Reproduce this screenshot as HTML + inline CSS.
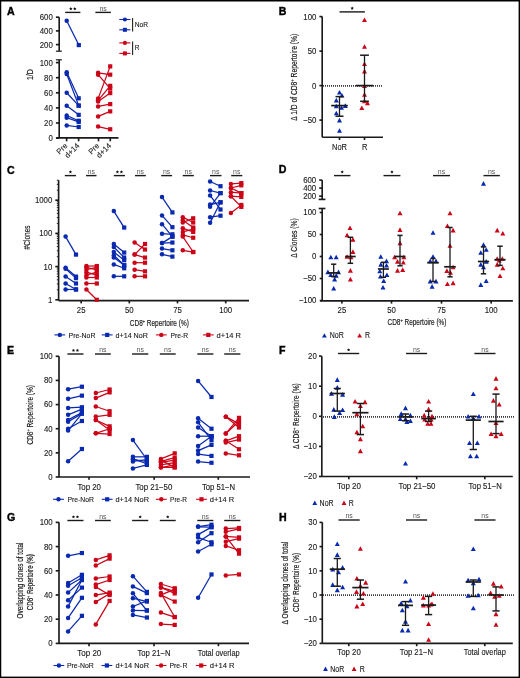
<!DOCTYPE html>
<html><head><meta charset="utf-8"><style>
html,body{margin:0;padding:0;background:#fff;width:520px;height:678px;overflow:hidden}
svg{display:block;will-change:transform}
text{font-family:"Liberation Sans",sans-serif}
</style></head><body>
<svg width="520" height="678" viewBox="0 0 520 678">
<rect x="0" y="0" width="520" height="678" fill="#fff"/>
<text x="6.9" y="14.8" font-size="10.6" font-weight="bold" fill="#000" stroke="#000" stroke-width="0.4">A</text>
<line x1="59.2" y1="17.2" x2="59.2" y2="51.2" stroke="#1a1a1a" stroke-width="1.65"/>
<line x1="55.9" y1="17.2" x2="59.2" y2="17.2" stroke="#1a1a1a" stroke-width="1.65"/>
<text x="52.8" y="20.1" font-size="8.7" text-anchor="end" textLength="13.05" lengthAdjust="spacingAndGlyphs" fill="#1a1a1a" stroke="#1a1a1a" stroke-width="0.12">600</text>
<line x1="55.9" y1="30.9" x2="59.2" y2="30.9" stroke="#1a1a1a" stroke-width="1.65"/>
<text x="52.8" y="33.8" font-size="8.7" text-anchor="end" textLength="13.05" lengthAdjust="spacingAndGlyphs" fill="#1a1a1a" stroke="#1a1a1a" stroke-width="0.12">400</text>
<line x1="55.9" y1="44.6" x2="59.2" y2="44.6" stroke="#1a1a1a" stroke-width="1.65"/>
<text x="52.8" y="47.5" font-size="8.7" text-anchor="end" textLength="13.05" lengthAdjust="spacingAndGlyphs" fill="#1a1a1a" stroke="#1a1a1a" stroke-width="0.12">200</text>
<line x1="55.9" y1="51.2" x2="61.9" y2="51.2" stroke="#1a1a1a" stroke-width="1.2"/>
<line x1="55.9" y1="59.8" x2="61.9" y2="59.8" stroke="#1a1a1a" stroke-width="1.2"/>
<line x1="59.2" y1="59.8" x2="59.2" y2="137.8" stroke="#1a1a1a" stroke-width="1.65"/>
<line x1="55.9" y1="62.6" x2="59.2" y2="62.6" stroke="#1a1a1a" stroke-width="1.65"/>
<text x="52.8" y="65.5" font-size="8.7" text-anchor="end" textLength="13.05" lengthAdjust="spacingAndGlyphs" fill="#1a1a1a" stroke="#1a1a1a" stroke-width="0.12">100</text>
<line x1="55.9" y1="77.7" x2="59.2" y2="77.7" stroke="#1a1a1a" stroke-width="1.65"/>
<text x="52.8" y="80.6" font-size="8.7" text-anchor="end" textLength="8.7" lengthAdjust="spacingAndGlyphs" fill="#1a1a1a" stroke="#1a1a1a" stroke-width="0.12">80</text>
<line x1="55.9" y1="92.8" x2="59.2" y2="92.8" stroke="#1a1a1a" stroke-width="1.65"/>
<text x="52.8" y="95.7" font-size="8.7" text-anchor="end" textLength="8.7" lengthAdjust="spacingAndGlyphs" fill="#1a1a1a" stroke="#1a1a1a" stroke-width="0.12">60</text>
<line x1="55.9" y1="107.9" x2="59.2" y2="107.9" stroke="#1a1a1a" stroke-width="1.65"/>
<text x="52.8" y="110.8" font-size="8.7" text-anchor="end" textLength="8.7" lengthAdjust="spacingAndGlyphs" fill="#1a1a1a" stroke="#1a1a1a" stroke-width="0.12">40</text>
<line x1="55.9" y1="123" x2="59.2" y2="123" stroke="#1a1a1a" stroke-width="1.65"/>
<text x="52.8" y="125.9" font-size="8.7" text-anchor="end" textLength="8.7" lengthAdjust="spacingAndGlyphs" fill="#1a1a1a" stroke="#1a1a1a" stroke-width="0.12">20</text>
<line x1="55.9" y1="138.1" x2="59.2" y2="138.1" stroke="#1a1a1a" stroke-width="1.65"/>
<text x="52.8" y="141" font-size="8.7" text-anchor="end" textLength="4.35" lengthAdjust="spacingAndGlyphs" fill="#1a1a1a" stroke="#1a1a1a" stroke-width="0.12">0</text>
<line x1="56.2" y1="137.8" x2="118.5" y2="137.8" stroke="#1a1a1a" stroke-width="1.65"/>
<line x1="66.6" y1="137.8" x2="66.6" y2="141.3" stroke="#1a1a1a" stroke-width="1.65"/>
<line x1="78.6" y1="137.8" x2="78.6" y2="141.3" stroke="#1a1a1a" stroke-width="1.65"/>
<line x1="98.5" y1="137.8" x2="98.5" y2="141.3" stroke="#1a1a1a" stroke-width="1.65"/>
<line x1="110.3" y1="137.8" x2="110.3" y2="141.3" stroke="#1a1a1a" stroke-width="1.65"/>
<text transform="translate(68 146.2) rotate(-45)" font-size="7.7" text-anchor="end" fill="#1a1a1a" stroke="#1a1a1a" stroke-width="0.12">Pre</text>
<text transform="translate(99.9 146.2) rotate(-45)" font-size="7.7" text-anchor="end" fill="#1a1a1a" stroke="#1a1a1a" stroke-width="0.12">Pre</text>
<text transform="translate(80 146.2) rotate(-45)" font-size="7.7" text-anchor="end" fill="#1a1a1a" stroke="#1a1a1a" stroke-width="0.12">d+14</text>
<text transform="translate(111.7 146.2) rotate(-45)" font-size="7.7" text-anchor="end" fill="#1a1a1a" stroke="#1a1a1a" stroke-width="0.12">d+14</text>
<text transform="translate(32.9 74.6) rotate(-90)" font-size="9.8" text-anchor="middle" textLength="10.8" lengthAdjust="spacingAndGlyphs" fill="#1a1a1a" stroke="#1a1a1a" stroke-width="0.18">1/D</text>
<line x1="66.7" y1="20.83" x2="78.8" y2="45.08" stroke="#0829b0" stroke-width="1.25"/>
<circle cx="66.7" cy="20.83" r="2.25" fill="#0829b0"/>
<rect x="76.7" y="42.98" width="4.2" height="4.2" fill="#0829b0"/>
<line x1="66.7" y1="72.19" x2="78.7" y2="98.31" stroke="#0829b0" stroke-width="1.25"/>
<line x1="66.7" y1="73.92" x2="78.7" y2="105.63" stroke="#0829b0" stroke-width="1.25"/>
<line x1="66.7" y1="92.8" x2="78.7" y2="105.63" stroke="#0829b0" stroke-width="1.25"/>
<line x1="66.7" y1="105.63" x2="78.7" y2="114.85" stroke="#0829b0" stroke-width="1.25"/>
<line x1="66.7" y1="115.45" x2="78.7" y2="120.73" stroke="#0829b0" stroke-width="1.25"/>
<line x1="66.7" y1="117.71" x2="78.7" y2="121.87" stroke="#0829b0" stroke-width="1.25"/>
<line x1="66.7" y1="125.49" x2="78.7" y2="127" stroke="#0829b0" stroke-width="1.25"/>
<circle cx="66.7" cy="72.19" r="2.25" fill="#0829b0"/>
<rect x="76.6" y="96.21" width="4.2" height="4.2" fill="#0829b0"/>
<circle cx="66.7" cy="73.92" r="2.25" fill="#0829b0"/>
<rect x="76.6" y="103.53" width="4.2" height="4.2" fill="#0829b0"/>
<circle cx="66.7" cy="92.8" r="2.25" fill="#0829b0"/>
<rect x="76.6" y="103.53" width="4.2" height="4.2" fill="#0829b0"/>
<circle cx="66.7" cy="105.63" r="2.25" fill="#0829b0"/>
<rect x="76.6" y="112.75" width="4.2" height="4.2" fill="#0829b0"/>
<circle cx="66.7" cy="115.45" r="2.25" fill="#0829b0"/>
<rect x="76.6" y="118.64" width="4.2" height="4.2" fill="#0829b0"/>
<circle cx="66.7" cy="117.71" r="2.25" fill="#0829b0"/>
<rect x="76.6" y="119.77" width="4.2" height="4.2" fill="#0829b0"/>
<circle cx="66.7" cy="125.49" r="2.25" fill="#0829b0"/>
<rect x="76.6" y="124.9" width="4.2" height="4.2" fill="#0829b0"/>
<line x1="98.1" y1="72.79" x2="110.2" y2="74.68" stroke="#cc0418" stroke-width="1.25"/>
<line x1="98.1" y1="74.68" x2="110.2" y2="88.65" stroke="#cc0418" stroke-width="1.25"/>
<line x1="98.1" y1="98.61" x2="110.2" y2="66.38" stroke="#cc0418" stroke-width="1.25"/>
<line x1="98.1" y1="100.35" x2="110.2" y2="85.85" stroke="#cc0418" stroke-width="1.25"/>
<line x1="98.1" y1="101.48" x2="110.2" y2="93.1" stroke="#cc0418" stroke-width="1.25"/>
<line x1="98.1" y1="106.39" x2="110.2" y2="104.12" stroke="#cc0418" stroke-width="1.25"/>
<line x1="98.1" y1="116.43" x2="110.2" y2="111.37" stroke="#cc0418" stroke-width="1.25"/>
<line x1="98.1" y1="126.55" x2="110.2" y2="129.27" stroke="#cc0418" stroke-width="1.25"/>
<circle cx="98.1" cy="72.79" r="2.25" fill="#cc0418"/>
<rect x="108.1" y="72.58" width="4.2" height="4.2" fill="#cc0418"/>
<circle cx="98.1" cy="74.68" r="2.25" fill="#cc0418"/>
<rect x="108.1" y="86.55" width="4.2" height="4.2" fill="#cc0418"/>
<circle cx="98.1" cy="98.61" r="2.25" fill="#cc0418"/>
<rect x="108.1" y="64.28" width="4.2" height="4.2" fill="#cc0418"/>
<circle cx="98.1" cy="100.35" r="2.25" fill="#cc0418"/>
<rect x="108.1" y="83.75" width="4.2" height="4.2" fill="#cc0418"/>
<circle cx="98.1" cy="101.48" r="2.25" fill="#cc0418"/>
<rect x="108.1" y="91" width="4.2" height="4.2" fill="#cc0418"/>
<circle cx="98.1" cy="106.39" r="2.25" fill="#cc0418"/>
<rect x="108.1" y="102.03" width="4.2" height="4.2" fill="#cc0418"/>
<circle cx="98.1" cy="116.43" r="2.25" fill="#cc0418"/>
<rect x="108.1" y="109.27" width="4.2" height="4.2" fill="#cc0418"/>
<circle cx="98.1" cy="126.55" r="2.25" fill="#cc0418"/>
<rect x="108.1" y="127.17" width="4.2" height="4.2" fill="#cc0418"/>
<line x1="65.2" y1="12.4" x2="80.4" y2="12.4" stroke="#1a1a1a" stroke-width="1.4"/>
<path d="M70.8 7.1L71.3 8.11L72.42 8.27L71.61 9.06L71.8 10.18L70.8 9.65L69.8 10.18L69.99 9.06L69.18 8.27L70.3 8.11Z" fill="#111"/>
<path d="M74.8 7.1L75.3 8.11L76.42 8.27L75.61 9.06L75.8 10.18L74.8 9.65L73.8 10.18L73.99 9.06L73.18 8.27L74.3 8.11Z" fill="#111"/>
<line x1="95.4" y1="12.4" x2="110.9" y2="12.4" stroke="#1a1a1a" stroke-width="1.4"/>
<text x="103.15" y="10.6" font-size="6.9" text-anchor="middle" fill="#555">ns</text>
<line x1="119.3" y1="19.5" x2="130.4" y2="19.5" stroke="#0829b0" stroke-width="1.1"/>
<circle cx="124.9" cy="19.5" r="2.1" fill="#0829b0"/>
<line x1="119.3" y1="29.8" x2="130.4" y2="29.8" stroke="#0829b0" stroke-width="1.1"/>
<rect x="122.9" y="27.8" width="4" height="4" fill="#0829b0"/>
<line x1="132.6" y1="18.1" x2="132.6" y2="31.6" stroke="#222" stroke-width="1.1"/>
<text x="134.8" y="27.2" font-size="8" textLength="13.3" lengthAdjust="spacingAndGlyphs" fill="#1a1a1a" stroke="#1a1a1a" stroke-width="0.12">NoR</text>
<line x1="119.3" y1="42.9" x2="130.4" y2="42.9" stroke="#cc0418" stroke-width="1.1"/>
<circle cx="124.9" cy="42.9" r="2.1" fill="#cc0418"/>
<line x1="119.3" y1="53.4" x2="130.4" y2="53.4" stroke="#cc0418" stroke-width="1.1"/>
<rect x="122.9" y="51.4" width="4" height="4" fill="#cc0418"/>
<line x1="132.6" y1="41.4" x2="132.6" y2="54.9" stroke="#222" stroke-width="1.1"/>
<text x="134.8" y="50.2" font-size="8" textLength="4.7" lengthAdjust="spacingAndGlyphs" fill="#1a1a1a" stroke="#1a1a1a" stroke-width="0.12">R</text>
<text x="278.8" y="14.5" font-size="10.6" font-weight="bold" fill="#000" stroke="#000" stroke-width="0.4">B</text>
<line x1="322.2" y1="16.5" x2="322.2" y2="137.2" stroke="#1a1a1a" stroke-width="1.65"/>
<line x1="319.4" y1="16.6" x2="322.2" y2="16.6" stroke="#1a1a1a" stroke-width="1.65"/>
<text x="316.4" y="19.5" font-size="8.7" text-anchor="end" textLength="13.05" lengthAdjust="spacingAndGlyphs" fill="#1a1a1a" stroke="#1a1a1a" stroke-width="0.12">100</text>
<line x1="319.4" y1="51.1" x2="322.2" y2="51.1" stroke="#1a1a1a" stroke-width="1.65"/>
<text x="316.4" y="54" font-size="8.7" text-anchor="end" textLength="8.7" lengthAdjust="spacingAndGlyphs" fill="#1a1a1a" stroke="#1a1a1a" stroke-width="0.12">50</text>
<line x1="319.4" y1="85.6" x2="322.2" y2="85.6" stroke="#1a1a1a" stroke-width="1.65"/>
<text x="316.4" y="88.5" font-size="8.7" text-anchor="end" textLength="4.35" lengthAdjust="spacingAndGlyphs" fill="#1a1a1a" stroke="#1a1a1a" stroke-width="0.12">0</text>
<line x1="319.4" y1="120.1" x2="322.2" y2="120.1" stroke="#1a1a1a" stroke-width="1.65"/>
<text x="316.4" y="123" font-size="8.7" text-anchor="end" textLength="13.3" lengthAdjust="spacingAndGlyphs" fill="#1a1a1a" stroke="#1a1a1a" stroke-width="0.12">&#8722;50</text>
<line x1="322.2" y1="137.2" x2="383" y2="137.2" stroke="#1a1a1a" stroke-width="1.65"/>
<line x1="339.5" y1="137.2" x2="339.5" y2="140" stroke="#1a1a1a" stroke-width="1.65"/>
<line x1="364.5" y1="137.2" x2="364.5" y2="140" stroke="#1a1a1a" stroke-width="1.65"/>
<line x1="323" y1="85.95" x2="383" y2="85.95" stroke="#3a3a3a" stroke-width="1.8" stroke-dasharray="1 1"/>
<text x="339.5" y="149.9" font-size="8.7" text-anchor="middle" textLength="15" lengthAdjust="spacingAndGlyphs" fill="#1a1a1a" stroke="#1a1a1a" stroke-width="0.12">NoR</text>
<text x="364.6" y="149.9" font-size="8.7" text-anchor="middle" textLength="5.4" lengthAdjust="spacingAndGlyphs" fill="#1a1a1a" stroke="#1a1a1a" stroke-width="0.12">R</text>
<text transform="translate(296.7 77.3) rotate(-90)" font-size="9.3" text-anchor="middle" textLength="87" lengthAdjust="spacingAndGlyphs" fill="#1a1a1a" stroke="#1a1a1a" stroke-width="0.18">&#916; 1/D of CD8<tspan font-size="5.6" dy="-3.2">+</tspan><tspan dy="3.2"> Repertoire (%)</tspan></text>
<line x1="339.5" y1="11.9" x2="364.9" y2="11.9" stroke="#1a1a1a" stroke-width="1.4"/>
<path d="M352.2 6.6L352.7 7.61L353.82 7.77L353.01 8.56L353.2 9.68L352.2 9.15L351.2 9.68L351.39 8.56L350.58 7.77L351.7 7.61Z" fill="#111"/>
<path d="M339.5 89.92L342 94.52L337 94.52Z" fill="#0829b0"/>
<path d="M341.9 92.96L344.4 97.56L339.4 97.56Z" fill="#0829b0"/>
<path d="M336.3 97.79L338.8 102.39L333.8 102.39Z" fill="#0829b0"/>
<path d="M336.3 103.65L338.8 108.25L333.8 108.25Z" fill="#0829b0"/>
<path d="M341.5 105.17L344 109.77L339 109.77Z" fill="#0829b0"/>
<path d="M345.3 103.31L347.8 107.91L342.8 107.91Z" fill="#0829b0"/>
<path d="M336.3 110.69L338.8 115.29L333.8 115.29Z" fill="#0829b0"/>
<path d="M339.5 117.8L342 122.4L337 122.4Z" fill="#0829b0"/>
<path d="M339.5 128.15L342 132.75L337 132.75Z" fill="#0829b0"/>
<line x1="339.5" y1="96.6" x2="339.5" y2="116.2" stroke="#1a1a1a" stroke-width="1.3"/>
<line x1="335.5" y1="96.6" x2="343.5" y2="96.6" stroke="#1a1a1a" stroke-width="1.5"/>
<line x1="335.5" y1="116.2" x2="343.5" y2="116.2" stroke="#1a1a1a" stroke-width="1.5"/>
<line x1="331.2" y1="105.6" x2="347.8" y2="105.6" stroke="#1a1a1a" stroke-width="1.7"/>
<path d="M364.5 17.47L367 22.07L362 22.07Z" fill="#cc0418"/>
<path d="M364.5 44.18L367 48.78L362 48.78Z" fill="#cc0418"/>
<path d="M364.5 61.5L367 66.1L362 66.1Z" fill="#cc0418"/>
<path d="M364.5 68.81L367 73.41L362 73.41Z" fill="#cc0418"/>
<path d="M364.5 83.3L367 87.9L362 87.9Z" fill="#cc0418"/>
<path d="M364.5 92.13L367 96.73L362 96.73Z" fill="#cc0418"/>
<path d="M364.5 98.69L367 103.29L362 103.29Z" fill="#cc0418"/>
<path d="M367.5 100.55L370 105.15L365 105.15Z" fill="#cc0418"/>
<path d="M361.8 105.38L364.3 109.98L359.3 109.98Z" fill="#cc0418"/>
<line x1="364.5" y1="55.2" x2="364.5" y2="101.3" stroke="#1a1a1a" stroke-width="1.3"/>
<line x1="360.1" y1="55.2" x2="368.9" y2="55.2" stroke="#1a1a1a" stroke-width="1.5"/>
<line x1="360.1" y1="101.3" x2="368.9" y2="101.3" stroke="#1a1a1a" stroke-width="1.5"/>
<line x1="355.9" y1="85.6" x2="373.1" y2="85.6" stroke="#1a1a1a" stroke-width="1.7"/>
<text x="7.1" y="173.5" font-size="10.6" font-weight="bold" fill="#000" stroke="#000" stroke-width="0.4">C</text>
<line x1="58.6" y1="180.2" x2="58.6" y2="300.6" stroke="#1a1a1a" stroke-width="1.65"/>
<line x1="55.3" y1="299.8" x2="58.6" y2="299.8" stroke="#1a1a1a" stroke-width="1.65"/>
<text x="52.3" y="302.7" font-size="8.7" text-anchor="end" textLength="4.35" lengthAdjust="spacingAndGlyphs" fill="#1a1a1a" stroke="#1a1a1a" stroke-width="0.12">1</text>
<line x1="56.8" y1="289.81" x2="58.6" y2="289.81" stroke="#1a1a1a" stroke-width="0.9"/>
<line x1="56.8" y1="283.96" x2="58.6" y2="283.96" stroke="#1a1a1a" stroke-width="0.9"/>
<line x1="56.8" y1="279.81" x2="58.6" y2="279.81" stroke="#1a1a1a" stroke-width="0.9"/>
<line x1="56.8" y1="276.59" x2="58.6" y2="276.59" stroke="#1a1a1a" stroke-width="0.9"/>
<line x1="56.8" y1="273.97" x2="58.6" y2="273.97" stroke="#1a1a1a" stroke-width="0.9"/>
<line x1="56.8" y1="271.74" x2="58.6" y2="271.74" stroke="#1a1a1a" stroke-width="0.9"/>
<line x1="56.8" y1="269.82" x2="58.6" y2="269.82" stroke="#1a1a1a" stroke-width="0.9"/>
<line x1="56.8" y1="268.12" x2="58.6" y2="268.12" stroke="#1a1a1a" stroke-width="0.9"/>
<line x1="55.3" y1="266.6" x2="58.6" y2="266.6" stroke="#1a1a1a" stroke-width="1.65"/>
<text x="52.3" y="269.5" font-size="8.7" text-anchor="end" textLength="8.7" lengthAdjust="spacingAndGlyphs" fill="#1a1a1a" stroke="#1a1a1a" stroke-width="0.12">10</text>
<line x1="56.8" y1="256.61" x2="58.6" y2="256.61" stroke="#1a1a1a" stroke-width="0.9"/>
<line x1="56.8" y1="250.76" x2="58.6" y2="250.76" stroke="#1a1a1a" stroke-width="0.9"/>
<line x1="56.8" y1="246.61" x2="58.6" y2="246.61" stroke="#1a1a1a" stroke-width="0.9"/>
<line x1="56.8" y1="243.39" x2="58.6" y2="243.39" stroke="#1a1a1a" stroke-width="0.9"/>
<line x1="56.8" y1="240.77" x2="58.6" y2="240.77" stroke="#1a1a1a" stroke-width="0.9"/>
<line x1="56.8" y1="238.54" x2="58.6" y2="238.54" stroke="#1a1a1a" stroke-width="0.9"/>
<line x1="56.8" y1="236.62" x2="58.6" y2="236.62" stroke="#1a1a1a" stroke-width="0.9"/>
<line x1="56.8" y1="234.92" x2="58.6" y2="234.92" stroke="#1a1a1a" stroke-width="0.9"/>
<line x1="55.3" y1="233.4" x2="58.6" y2="233.4" stroke="#1a1a1a" stroke-width="1.65"/>
<text x="52.3" y="236.3" font-size="8.7" text-anchor="end" textLength="13.05" lengthAdjust="spacingAndGlyphs" fill="#1a1a1a" stroke="#1a1a1a" stroke-width="0.12">100</text>
<line x1="56.8" y1="223.41" x2="58.6" y2="223.41" stroke="#1a1a1a" stroke-width="0.9"/>
<line x1="56.8" y1="217.56" x2="58.6" y2="217.56" stroke="#1a1a1a" stroke-width="0.9"/>
<line x1="56.8" y1="213.41" x2="58.6" y2="213.41" stroke="#1a1a1a" stroke-width="0.9"/>
<line x1="56.8" y1="210.19" x2="58.6" y2="210.19" stroke="#1a1a1a" stroke-width="0.9"/>
<line x1="56.8" y1="207.57" x2="58.6" y2="207.57" stroke="#1a1a1a" stroke-width="0.9"/>
<line x1="56.8" y1="205.34" x2="58.6" y2="205.34" stroke="#1a1a1a" stroke-width="0.9"/>
<line x1="56.8" y1="203.42" x2="58.6" y2="203.42" stroke="#1a1a1a" stroke-width="0.9"/>
<line x1="56.8" y1="201.72" x2="58.6" y2="201.72" stroke="#1a1a1a" stroke-width="0.9"/>
<line x1="55.3" y1="200.2" x2="58.6" y2="200.2" stroke="#1a1a1a" stroke-width="1.65"/>
<text x="52.3" y="203.1" font-size="8.7" text-anchor="end" textLength="17.4" lengthAdjust="spacingAndGlyphs" fill="#1a1a1a" stroke="#1a1a1a" stroke-width="0.12">1000</text>
<line x1="56.8" y1="190.21" x2="58.6" y2="190.21" stroke="#1a1a1a" stroke-width="0.9"/>
<line x1="56.8" y1="184.36" x2="58.6" y2="184.36" stroke="#1a1a1a" stroke-width="0.9"/>
<line x1="56.8" y1="180.21" x2="58.6" y2="180.21" stroke="#1a1a1a" stroke-width="0.9"/>
<line x1="58.6" y1="300.6" x2="249" y2="300.6" stroke="#1a1a1a" stroke-width="1.65"/>
<line x1="81.2" y1="300.6" x2="81.2" y2="303.4" stroke="#1a1a1a" stroke-width="1.65"/>
<line x1="129.3" y1="300.6" x2="129.3" y2="303.4" stroke="#1a1a1a" stroke-width="1.65"/>
<line x1="177.5" y1="300.6" x2="177.5" y2="303.4" stroke="#1a1a1a" stroke-width="1.65"/>
<line x1="225.7" y1="300.6" x2="225.7" y2="303.4" stroke="#1a1a1a" stroke-width="1.65"/>
<text x="81.2" y="313.2" font-size="8.7" text-anchor="middle" textLength="8.7" lengthAdjust="spacingAndGlyphs" fill="#1a1a1a" stroke="#1a1a1a" stroke-width="0.12">25</text>
<text x="129.3" y="313.2" font-size="8.7" text-anchor="middle" textLength="8.7" lengthAdjust="spacingAndGlyphs" fill="#1a1a1a" stroke="#1a1a1a" stroke-width="0.12">50</text>
<text x="177.5" y="313.2" font-size="8.7" text-anchor="middle" textLength="8.7" lengthAdjust="spacingAndGlyphs" fill="#1a1a1a" stroke="#1a1a1a" stroke-width="0.12">75</text>
<text x="225.7" y="313.2" font-size="8.7" text-anchor="middle" textLength="13.05" lengthAdjust="spacingAndGlyphs" fill="#1a1a1a" stroke="#1a1a1a" stroke-width="0.12">100</text>
<text x="159.3" y="325.8" font-size="9.3" text-anchor="middle" textLength="59" lengthAdjust="spacingAndGlyphs" fill="#1a1a1a" stroke="#1a1a1a" stroke-width="0.18">CD8<tspan font-size="5.6" dy="-3.2">+</tspan><tspan dy="3.2"> Repertoire (%)</tspan></text>
<text transform="translate(29.9 237.4) rotate(-90)" font-size="9.3" text-anchor="middle" textLength="24" lengthAdjust="spacingAndGlyphs" fill="#1a1a1a" stroke="#1a1a1a" stroke-width="0.18">#Clones</text>
<line x1="65.6" y1="236.62" x2="76" y2="254.59" stroke="#0829b0" stroke-width="1.25"/>
<line x1="65.6" y1="267.65" x2="76" y2="276.59" stroke="#0829b0" stroke-width="1.25"/>
<line x1="65.6" y1="268.77" x2="76" y2="278.11" stroke="#0829b0" stroke-width="1.25"/>
<line x1="65.6" y1="276.59" x2="76" y2="283.49" stroke="#0829b0" stroke-width="1.25"/>
<line x1="65.6" y1="283.49" x2="76" y2="289.45" stroke="#0829b0" stroke-width="1.25"/>
<line x1="65.6" y1="289.45" x2="76" y2="289.45" stroke="#0829b0" stroke-width="1.25"/>
<circle cx="65.6" cy="236.62" r="2.25" fill="#0829b0"/>
<rect x="73.9" y="252.49" width="4.2" height="4.2" fill="#0829b0"/>
<circle cx="65.6" cy="267.65" r="2.25" fill="#0829b0"/>
<rect x="73.9" y="274.49" width="4.2" height="4.2" fill="#0829b0"/>
<circle cx="65.6" cy="268.77" r="2.25" fill="#0829b0"/>
<rect x="73.9" y="276.01" width="4.2" height="4.2" fill="#0829b0"/>
<circle cx="65.6" cy="276.59" r="2.25" fill="#0829b0"/>
<rect x="73.9" y="281.39" width="4.2" height="4.2" fill="#0829b0"/>
<circle cx="65.6" cy="283.49" r="2.25" fill="#0829b0"/>
<rect x="73.9" y="287.35" width="4.2" height="4.2" fill="#0829b0"/>
<circle cx="65.6" cy="289.45" r="2.25" fill="#0829b0"/>
<rect x="73.9" y="287.35" width="4.2" height="4.2" fill="#0829b0"/>
<line x1="86.4" y1="266.03" x2="96.8" y2="266.03" stroke="#cc0418" stroke-width="1.25"/>
<line x1="86.4" y1="267.34" x2="96.8" y2="269.82" stroke="#cc0418" stroke-width="1.25"/>
<line x1="86.4" y1="269.64" x2="96.8" y2="267.34" stroke="#cc0418" stroke-width="1.25"/>
<line x1="86.4" y1="272.16" x2="96.8" y2="275.22" stroke="#cc0418" stroke-width="1.25"/>
<line x1="86.4" y1="275.22" x2="96.8" y2="272.16" stroke="#cc0418" stroke-width="1.25"/>
<line x1="86.4" y1="277.49" x2="96.8" y2="277.49" stroke="#cc0418" stroke-width="1.25"/>
<line x1="86.4" y1="283.49" x2="96.8" y2="283.49" stroke="#cc0418" stroke-width="1.25"/>
<line x1="86.4" y1="289.45" x2="96.8" y2="299.8" stroke="#cc0418" stroke-width="1.25"/>
<circle cx="86.4" cy="266.03" r="2.25" fill="#cc0418"/>
<rect x="94.7" y="263.93" width="4.2" height="4.2" fill="#cc0418"/>
<circle cx="86.4" cy="267.34" r="2.25" fill="#cc0418"/>
<rect x="94.7" y="267.72" width="4.2" height="4.2" fill="#cc0418"/>
<circle cx="86.4" cy="269.64" r="2.25" fill="#cc0418"/>
<rect x="94.7" y="265.24" width="4.2" height="4.2" fill="#cc0418"/>
<circle cx="86.4" cy="272.16" r="2.25" fill="#cc0418"/>
<rect x="94.7" y="273.12" width="4.2" height="4.2" fill="#cc0418"/>
<circle cx="86.4" cy="275.22" r="2.25" fill="#cc0418"/>
<rect x="94.7" y="270.06" width="4.2" height="4.2" fill="#cc0418"/>
<circle cx="86.4" cy="277.49" r="2.25" fill="#cc0418"/>
<rect x="94.7" y="275.39" width="4.2" height="4.2" fill="#cc0418"/>
<circle cx="86.4" cy="283.49" r="2.25" fill="#cc0418"/>
<rect x="94.7" y="281.39" width="4.2" height="4.2" fill="#cc0418"/>
<circle cx="86.4" cy="289.45" r="2.25" fill="#cc0418"/>
<rect x="94.7" y="297.7" width="4.2" height="4.2" fill="#cc0418"/>
<line x1="113.8" y1="211.09" x2="124.2" y2="227.55" stroke="#0829b0" stroke-width="1.25"/>
<line x1="113.8" y1="243.98" x2="124.2" y2="252.55" stroke="#0829b0" stroke-width="1.25"/>
<line x1="113.8" y1="246.98" x2="124.2" y2="257.57" stroke="#0829b0" stroke-width="1.25"/>
<line x1="113.8" y1="252.01" x2="124.2" y2="260.19" stroke="#0829b0" stroke-width="1.25"/>
<line x1="113.8" y1="255.23" x2="124.2" y2="265.23" stroke="#0829b0" stroke-width="1.25"/>
<line x1="113.8" y1="257.57" x2="124.2" y2="265.23" stroke="#0829b0" stroke-width="1.25"/>
<line x1="113.8" y1="264.46" x2="124.2" y2="268.28" stroke="#0829b0" stroke-width="1.25"/>
<line x1="113.8" y1="276.31" x2="124.2" y2="276.31" stroke="#0829b0" stroke-width="1.25"/>
<circle cx="113.8" cy="211.09" r="2.25" fill="#0829b0"/>
<rect x="122.1" y="225.45" width="4.2" height="4.2" fill="#0829b0"/>
<circle cx="113.8" cy="243.98" r="2.25" fill="#0829b0"/>
<rect x="122.1" y="250.45" width="4.2" height="4.2" fill="#0829b0"/>
<circle cx="113.8" cy="246.98" r="2.25" fill="#0829b0"/>
<rect x="122.1" y="255.47" width="4.2" height="4.2" fill="#0829b0"/>
<circle cx="113.8" cy="252.01" r="2.25" fill="#0829b0"/>
<rect x="122.1" y="258.09" width="4.2" height="4.2" fill="#0829b0"/>
<circle cx="113.8" cy="255.23" r="2.25" fill="#0829b0"/>
<rect x="122.1" y="263.13" width="4.2" height="4.2" fill="#0829b0"/>
<circle cx="113.8" cy="257.57" r="2.25" fill="#0829b0"/>
<rect x="122.1" y="263.13" width="4.2" height="4.2" fill="#0829b0"/>
<circle cx="113.8" cy="264.46" r="2.25" fill="#0829b0"/>
<rect x="122.1" y="266.18" width="4.2" height="4.2" fill="#0829b0"/>
<circle cx="113.8" cy="276.31" r="2.25" fill="#0829b0"/>
<rect x="122.1" y="274.21" width="4.2" height="4.2" fill="#0829b0"/>
<line x1="134.6" y1="242.55" x2="145" y2="249.52" stroke="#cc0418" stroke-width="1.25"/>
<line x1="134.6" y1="254.59" x2="145" y2="243.98" stroke="#cc0418" stroke-width="1.25"/>
<line x1="134.6" y1="254.59" x2="145" y2="257.57" stroke="#cc0418" stroke-width="1.25"/>
<line x1="134.6" y1="262.71" x2="145" y2="262.71" stroke="#cc0418" stroke-width="1.25"/>
<line x1="134.6" y1="269.64" x2="145" y2="271.34" stroke="#cc0418" stroke-width="1.25"/>
<line x1="134.6" y1="276.31" x2="145" y2="276.31" stroke="#cc0418" stroke-width="1.25"/>
<circle cx="134.6" cy="242.55" r="2.25" fill="#cc0418"/>
<rect x="142.9" y="247.42" width="4.2" height="4.2" fill="#cc0418"/>
<circle cx="134.6" cy="254.59" r="2.25" fill="#cc0418"/>
<rect x="142.9" y="241.88" width="4.2" height="4.2" fill="#cc0418"/>
<circle cx="134.6" cy="254.59" r="2.25" fill="#cc0418"/>
<rect x="142.9" y="255.47" width="4.2" height="4.2" fill="#cc0418"/>
<circle cx="134.6" cy="262.71" r="2.25" fill="#cc0418"/>
<rect x="142.9" y="260.61" width="4.2" height="4.2" fill="#cc0418"/>
<circle cx="134.6" cy="269.64" r="2.25" fill="#cc0418"/>
<rect x="142.9" y="269.24" width="4.2" height="4.2" fill="#cc0418"/>
<circle cx="134.6" cy="276.31" r="2.25" fill="#cc0418"/>
<rect x="142.9" y="274.21" width="4.2" height="4.2" fill="#cc0418"/>
<line x1="162" y1="197.1" x2="172.4" y2="212.44" stroke="#0829b0" stroke-width="1.25"/>
<line x1="162" y1="215.42" x2="172.4" y2="227.17" stroke="#0829b0" stroke-width="1.25"/>
<line x1="162" y1="224.22" x2="172.4" y2="236.62" stroke="#0829b0" stroke-width="1.25"/>
<line x1="162" y1="233.69" x2="172.4" y2="234.29" stroke="#0829b0" stroke-width="1.25"/>
<line x1="162" y1="243.11" x2="172.4" y2="236.62" stroke="#0829b0" stroke-width="1.25"/>
<line x1="162" y1="243.11" x2="172.4" y2="242.55" stroke="#0829b0" stroke-width="1.25"/>
<line x1="162" y1="248.54" x2="172.4" y2="250.29" stroke="#0829b0" stroke-width="1.25"/>
<line x1="162" y1="254.28" x2="172.4" y2="256.61" stroke="#0829b0" stroke-width="1.25"/>
<circle cx="162" cy="197.1" r="2.25" fill="#0829b0"/>
<rect x="170.3" y="210.34" width="4.2" height="4.2" fill="#0829b0"/>
<circle cx="162" cy="215.42" r="2.25" fill="#0829b0"/>
<rect x="170.3" y="225.07" width="4.2" height="4.2" fill="#0829b0"/>
<circle cx="162" cy="224.22" r="2.25" fill="#0829b0"/>
<rect x="170.3" y="234.52" width="4.2" height="4.2" fill="#0829b0"/>
<circle cx="162" cy="233.69" r="2.25" fill="#0829b0"/>
<rect x="170.3" y="232.19" width="4.2" height="4.2" fill="#0829b0"/>
<circle cx="162" cy="243.11" r="2.25" fill="#0829b0"/>
<rect x="170.3" y="234.52" width="4.2" height="4.2" fill="#0829b0"/>
<circle cx="162" cy="243.11" r="2.25" fill="#0829b0"/>
<rect x="170.3" y="240.45" width="4.2" height="4.2" fill="#0829b0"/>
<circle cx="162" cy="248.54" r="2.25" fill="#0829b0"/>
<rect x="170.3" y="248.19" width="4.2" height="4.2" fill="#0829b0"/>
<circle cx="162" cy="254.28" r="2.25" fill="#0829b0"/>
<rect x="170.3" y="254.51" width="4.2" height="4.2" fill="#0829b0"/>
<line x1="182.8" y1="217.18" x2="193.2" y2="222.5" stroke="#cc0418" stroke-width="1.25"/>
<line x1="182.8" y1="222.5" x2="193.2" y2="218.3" stroke="#cc0418" stroke-width="1.25"/>
<line x1="182.8" y1="228.34" x2="193.2" y2="231.9" stroke="#cc0418" stroke-width="1.25"/>
<line x1="182.8" y1="231.9" x2="193.2" y2="229.07" stroke="#cc0418" stroke-width="1.25"/>
<line x1="182.8" y1="234.92" x2="193.2" y2="237.74" stroke="#cc0418" stroke-width="1.25"/>
<line x1="182.8" y1="236.62" x2="193.2" y2="252.01" stroke="#cc0418" stroke-width="1.25"/>
<line x1="182.8" y1="250.29" x2="193.2" y2="252.01" stroke="#cc0418" stroke-width="1.25"/>
<line x1="182.8" y1="220.19" x2="193.2" y2="227.55" stroke="#cc0418" stroke-width="1.25"/>
<circle cx="182.8" cy="217.18" r="2.25" fill="#cc0418"/>
<rect x="191.1" y="220.4" width="4.2" height="4.2" fill="#cc0418"/>
<circle cx="182.8" cy="222.5" r="2.25" fill="#cc0418"/>
<rect x="191.1" y="216.2" width="4.2" height="4.2" fill="#cc0418"/>
<circle cx="182.8" cy="228.34" r="2.25" fill="#cc0418"/>
<rect x="191.1" y="229.8" width="4.2" height="4.2" fill="#cc0418"/>
<circle cx="182.8" cy="231.9" r="2.25" fill="#cc0418"/>
<rect x="191.1" y="226.97" width="4.2" height="4.2" fill="#cc0418"/>
<circle cx="182.8" cy="234.92" r="2.25" fill="#cc0418"/>
<rect x="191.1" y="235.64" width="4.2" height="4.2" fill="#cc0418"/>
<circle cx="182.8" cy="236.62" r="2.25" fill="#cc0418"/>
<rect x="191.1" y="249.91" width="4.2" height="4.2" fill="#cc0418"/>
<circle cx="182.8" cy="250.29" r="2.25" fill="#cc0418"/>
<rect x="191.1" y="249.91" width="4.2" height="4.2" fill="#cc0418"/>
<circle cx="182.8" cy="220.19" r="2.25" fill="#cc0418"/>
<rect x="191.1" y="225.45" width="4.2" height="4.2" fill="#cc0418"/>
<line x1="210.1" y1="181.49" x2="220.5" y2="186.2" stroke="#0829b0" stroke-width="1.25"/>
<line x1="210.1" y1="190.5" x2="220.5" y2="193.09" stroke="#0829b0" stroke-width="1.25"/>
<line x1="210.1" y1="195.4" x2="220.5" y2="209.49" stroke="#0829b0" stroke-width="1.25"/>
<line x1="210.1" y1="204.58" x2="220.5" y2="202.31" stroke="#0829b0" stroke-width="1.25"/>
<line x1="210.1" y1="206.86" x2="220.5" y2="193.09" stroke="#0829b0" stroke-width="1.25"/>
<line x1="210.1" y1="217.18" x2="220.5" y2="215.71" stroke="#0829b0" stroke-width="1.25"/>
<line x1="210.1" y1="222.77" x2="220.5" y2="202.31" stroke="#0829b0" stroke-width="1.25"/>
<circle cx="210.1" cy="181.49" r="2.25" fill="#0829b0"/>
<rect x="218.4" y="184.1" width="4.2" height="4.2" fill="#0829b0"/>
<circle cx="210.1" cy="190.5" r="2.25" fill="#0829b0"/>
<rect x="218.4" y="190.99" width="4.2" height="4.2" fill="#0829b0"/>
<circle cx="210.1" cy="195.4" r="2.25" fill="#0829b0"/>
<rect x="218.4" y="207.39" width="4.2" height="4.2" fill="#0829b0"/>
<circle cx="210.1" cy="204.58" r="2.25" fill="#0829b0"/>
<rect x="218.4" y="200.21" width="4.2" height="4.2" fill="#0829b0"/>
<circle cx="210.1" cy="206.86" r="2.25" fill="#0829b0"/>
<rect x="218.4" y="190.99" width="4.2" height="4.2" fill="#0829b0"/>
<circle cx="210.1" cy="217.18" r="2.25" fill="#0829b0"/>
<rect x="218.4" y="213.61" width="4.2" height="4.2" fill="#0829b0"/>
<circle cx="210.1" cy="222.77" r="2.25" fill="#0829b0"/>
<rect x="218.4" y="200.21" width="4.2" height="4.2" fill="#0829b0"/>
<line x1="230.9" y1="183.89" x2="241.3" y2="183.12" stroke="#cc0418" stroke-width="1.25"/>
<line x1="230.9" y1="188" x2="241.3" y2="185.35" stroke="#cc0418" stroke-width="1.25"/>
<line x1="230.9" y1="192.21" x2="241.3" y2="193.16" stroke="#cc0418" stroke-width="1.25"/>
<line x1="230.9" y1="196.2" x2="241.3" y2="196.87" stroke="#cc0418" stroke-width="1.25"/>
<line x1="230.9" y1="196.2" x2="241.3" y2="206.86" stroke="#cc0418" stroke-width="1.25"/>
<line x1="230.9" y1="213.06" x2="241.3" y2="204.94" stroke="#cc0418" stroke-width="1.25"/>
<line x1="230.9" y1="188" x2="241.3" y2="193.16" stroke="#cc0418" stroke-width="1.25"/>
<circle cx="230.9" cy="183.89" r="2.25" fill="#cc0418"/>
<rect x="239.2" y="181.02" width="4.2" height="4.2" fill="#cc0418"/>
<circle cx="230.9" cy="188" r="2.25" fill="#cc0418"/>
<rect x="239.2" y="183.25" width="4.2" height="4.2" fill="#cc0418"/>
<circle cx="230.9" cy="192.21" r="2.25" fill="#cc0418"/>
<rect x="239.2" y="191.06" width="4.2" height="4.2" fill="#cc0418"/>
<circle cx="230.9" cy="196.2" r="2.25" fill="#cc0418"/>
<rect x="239.2" y="194.77" width="4.2" height="4.2" fill="#cc0418"/>
<circle cx="230.9" cy="196.2" r="2.25" fill="#cc0418"/>
<rect x="239.2" y="204.76" width="4.2" height="4.2" fill="#cc0418"/>
<circle cx="230.9" cy="213.06" r="2.25" fill="#cc0418"/>
<rect x="239.2" y="202.84" width="4.2" height="4.2" fill="#cc0418"/>
<circle cx="230.9" cy="188" r="2.25" fill="#cc0418"/>
<rect x="239.2" y="191.06" width="4.2" height="4.2" fill="#cc0418"/>
<line x1="64.8" y1="175.6" x2="76" y2="175.6" stroke="#1a1a1a" stroke-width="1.4"/>
<path d="M70.4 170.3L70.9 171.31L72.02 171.47L71.21 172.26L71.4 173.38L70.4 172.85L69.4 173.38L69.59 172.26L68.78 171.47L69.9 171.31Z" fill="#111"/>
<line x1="86" y1="175.6" x2="96.5" y2="175.6" stroke="#1a1a1a" stroke-width="1.4"/>
<text x="91.25" y="173.8" font-size="6.9" text-anchor="middle" fill="#555">ns</text>
<line x1="113.8" y1="175.6" x2="125" y2="175.6" stroke="#1a1a1a" stroke-width="1.4"/>
<path d="M117.4 170.3L117.9 171.31L119.02 171.47L118.21 172.26L118.4 173.38L117.4 172.85L116.4 173.38L116.59 172.26L115.78 171.47L116.9 171.31Z" fill="#111"/>
<path d="M121.4 170.3L121.9 171.31L123.02 171.47L122.21 172.26L122.4 173.38L121.4 172.85L120.4 173.38L120.59 172.26L119.78 171.47L120.9 171.31Z" fill="#111"/>
<line x1="135" y1="175.6" x2="145.8" y2="175.6" stroke="#1a1a1a" stroke-width="1.4"/>
<text x="140.4" y="173.8" font-size="6.9" text-anchor="middle" fill="#555">ns</text>
<line x1="161.2" y1="175.6" x2="172.1" y2="175.6" stroke="#1a1a1a" stroke-width="1.4"/>
<text x="166.65" y="173.8" font-size="6.9" text-anchor="middle" fill="#555">ns</text>
<line x1="182.7" y1="175.6" x2="193.8" y2="175.6" stroke="#1a1a1a" stroke-width="1.4"/>
<text x="188.25" y="173.8" font-size="6.9" text-anchor="middle" fill="#555">ns</text>
<line x1="210" y1="175.6" x2="221.5" y2="175.6" stroke="#1a1a1a" stroke-width="1.4"/>
<text x="215.75" y="173.8" font-size="6.9" text-anchor="middle" fill="#555">ns</text>
<line x1="231.2" y1="175.6" x2="242.3" y2="175.6" stroke="#1a1a1a" stroke-width="1.4"/>
<text x="236.75" y="173.8" font-size="6.9" text-anchor="middle" fill="#555">ns</text>
<line x1="54.4" y1="334.9" x2="65.2" y2="334.9" stroke="#0829b0" stroke-width="1.1"/>
<circle cx="59.8" cy="334.9" r="2.2" fill="#0829b0"/>
<text x="68.6" y="337.6" font-size="8" textLength="26.8" lengthAdjust="spacingAndGlyphs" fill="#1a1a1a" stroke="#1a1a1a" stroke-width="0.12">Pre-NoR</text>
<line x1="101.8" y1="334.9" x2="112.6" y2="334.9" stroke="#0829b0" stroke-width="1.1"/>
<rect x="105.1" y="332.8" width="4.2" height="4.2" fill="#0829b0"/>
<text x="115.5" y="337.6" font-size="8" textLength="32.4" lengthAdjust="spacingAndGlyphs" fill="#1a1a1a" stroke="#1a1a1a" stroke-width="0.12">d+14 NoR</text>
<line x1="155.9" y1="334.9" x2="166.7" y2="334.9" stroke="#cc0418" stroke-width="1.1"/>
<circle cx="161.3" cy="334.9" r="2.2" fill="#cc0418"/>
<text x="170.5" y="337.6" font-size="8" textLength="17.5" lengthAdjust="spacingAndGlyphs" fill="#1a1a1a" stroke="#1a1a1a" stroke-width="0.12">Pre-R</text>
<line x1="202.9" y1="334.9" x2="213.7" y2="334.9" stroke="#cc0418" stroke-width="1.1"/>
<rect x="206.2" y="332.8" width="4.2" height="4.2" fill="#cc0418"/>
<text x="216.6" y="337.6" font-size="8" textLength="24.4" lengthAdjust="spacingAndGlyphs" fill="#1a1a1a" stroke="#1a1a1a" stroke-width="0.12">d+14 R</text>
<text x="278.8" y="173.2" font-size="10.6" font-weight="bold" fill="#000" stroke="#000" stroke-width="0.4">D</text>
<line x1="322.2" y1="180.1" x2="322.2" y2="199.4" stroke="#1a1a1a" stroke-width="1.65"/>
<line x1="319.2" y1="180.1" x2="322.2" y2="180.1" stroke="#1a1a1a" stroke-width="1.65"/>
<text x="316.2" y="183" font-size="8.7" text-anchor="end" textLength="13.05" lengthAdjust="spacingAndGlyphs" fill="#1a1a1a" stroke="#1a1a1a" stroke-width="0.12">600</text>
<line x1="319.2" y1="188.14" x2="322.2" y2="188.14" stroke="#1a1a1a" stroke-width="1.65"/>
<text x="316.2" y="191.04" font-size="8.7" text-anchor="end" textLength="13.05" lengthAdjust="spacingAndGlyphs" fill="#1a1a1a" stroke="#1a1a1a" stroke-width="0.12">400</text>
<line x1="319.2" y1="196.18" x2="322.2" y2="196.18" stroke="#1a1a1a" stroke-width="1.65"/>
<text x="316.2" y="199.08" font-size="8.7" text-anchor="end" textLength="13.05" lengthAdjust="spacingAndGlyphs" fill="#1a1a1a" stroke="#1a1a1a" stroke-width="0.12">200</text>
<line x1="318.7" y1="199.4" x2="325.4" y2="199.4" stroke="#1a1a1a" stroke-width="1.65"/>
<line x1="318.7" y1="208.5" x2="325.4" y2="208.5" stroke="#1a1a1a" stroke-width="1.65"/>
<line x1="322.2" y1="208.5" x2="322.2" y2="300.8" stroke="#1a1a1a" stroke-width="1.65"/>
<line x1="319.7" y1="212.5" x2="322.2" y2="212.5" stroke="#1a1a1a" stroke-width="1.65"/>
<text x="316.4" y="215.4" font-size="8.7" text-anchor="end" textLength="13.05" lengthAdjust="spacingAndGlyphs" fill="#1a1a1a" stroke="#1a1a1a" stroke-width="0.12">100</text>
<line x1="319.7" y1="234.5" x2="322.2" y2="234.5" stroke="#1a1a1a" stroke-width="1.65"/>
<text x="316.4" y="237.4" font-size="8.7" text-anchor="end" textLength="8.7" lengthAdjust="spacingAndGlyphs" fill="#1a1a1a" stroke="#1a1a1a" stroke-width="0.12">50</text>
<line x1="319.7" y1="256.5" x2="322.2" y2="256.5" stroke="#1a1a1a" stroke-width="1.65"/>
<text x="316.4" y="259.4" font-size="8.7" text-anchor="end" textLength="4.35" lengthAdjust="spacingAndGlyphs" fill="#1a1a1a" stroke="#1a1a1a" stroke-width="0.12">0</text>
<line x1="319.7" y1="278.5" x2="322.2" y2="278.5" stroke="#1a1a1a" stroke-width="1.65"/>
<text x="316.4" y="281.4" font-size="8.7" text-anchor="end" textLength="13.3" lengthAdjust="spacingAndGlyphs" fill="#1a1a1a" stroke="#1a1a1a" stroke-width="0.12">&#8722;50</text>
<line x1="319.7" y1="300.5" x2="322.2" y2="300.5" stroke="#1a1a1a" stroke-width="1.65"/>
<text x="316.4" y="303.4" font-size="8.7" text-anchor="end" textLength="17.65" lengthAdjust="spacingAndGlyphs" fill="#1a1a1a" stroke="#1a1a1a" stroke-width="0.12">&#8722;100</text>
<line x1="320.2" y1="300.8" x2="512.9" y2="300.8" stroke="#1a1a1a" stroke-width="1.65"/>
<line x1="341.9" y1="300.8" x2="341.9" y2="303.6" stroke="#1a1a1a" stroke-width="1.65"/>
<line x1="391.5" y1="300.8" x2="391.5" y2="303.6" stroke="#1a1a1a" stroke-width="1.65"/>
<line x1="441.5" y1="300.8" x2="441.5" y2="303.6" stroke="#1a1a1a" stroke-width="1.65"/>
<line x1="491.2" y1="300.8" x2="491.2" y2="303.6" stroke="#1a1a1a" stroke-width="1.65"/>
<text x="341.9" y="312.5" font-size="8.7" text-anchor="middle" textLength="8.7" lengthAdjust="spacingAndGlyphs" fill="#1a1a1a" stroke="#1a1a1a" stroke-width="0.12">25</text>
<text x="391.5" y="312.5" font-size="8.7" text-anchor="middle" textLength="8.7" lengthAdjust="spacingAndGlyphs" fill="#1a1a1a" stroke="#1a1a1a" stroke-width="0.12">50</text>
<text x="441.5" y="312.5" font-size="8.7" text-anchor="middle" textLength="8.7" lengthAdjust="spacingAndGlyphs" fill="#1a1a1a" stroke="#1a1a1a" stroke-width="0.12">75</text>
<text x="491.2" y="312.5" font-size="8.7" text-anchor="middle" textLength="13.05" lengthAdjust="spacingAndGlyphs" fill="#1a1a1a" stroke="#1a1a1a" stroke-width="0.12">100</text>
<text x="417" y="324.9" font-size="9.3" text-anchor="middle" textLength="59" lengthAdjust="spacingAndGlyphs" fill="#1a1a1a" stroke="#1a1a1a" stroke-width="0.18">CD8<tspan font-size="5.6" dy="-3.2">+</tspan><tspan dy="3.2"> Repertoire (%)</tspan></text>
<text transform="translate(296.6 238) rotate(-90)" font-size="9.3" text-anchor="middle" textLength="39.5" lengthAdjust="spacingAndGlyphs" fill="#1a1a1a" stroke="#1a1a1a" stroke-width="0.18">&#916; Clones (%)</text>
<line x1="334" y1="175.6" x2="350.4" y2="175.6" stroke="#1a1a1a" stroke-width="1.4"/>
<path d="M342.2 170.3L342.7 171.31L343.82 171.47L343.01 172.26L343.2 173.38L342.2 172.85L341.2 173.38L341.39 172.26L340.58 171.47L341.7 171.31Z" fill="#111"/>
<line x1="383.5" y1="175.6" x2="400.4" y2="175.6" stroke="#1a1a1a" stroke-width="1.4"/>
<path d="M391.95 170.3L392.45 171.31L393.57 171.47L392.76 172.26L392.95 173.38L391.95 172.85L390.95 173.38L391.14 172.26L390.33 171.47L391.45 171.31Z" fill="#111"/>
<line x1="433" y1="175.6" x2="450" y2="175.6" stroke="#1a1a1a" stroke-width="1.4"/>
<text x="441.5" y="173.8" font-size="6.9" text-anchor="middle" fill="#555">ns</text>
<line x1="483.5" y1="175.6" x2="499.8" y2="175.6" stroke="#1a1a1a" stroke-width="1.4"/>
<text x="491.65" y="173.8" font-size="6.9" text-anchor="middle" fill="#555">ns</text>
<path d="M330.8 254.64L333.3 259.24L328.3 259.24Z" fill="#0829b0"/>
<path d="M336.2 254.64L338.7 259.24L333.7 259.24Z" fill="#0829b0"/>
<path d="M327.9 269.6L330.4 274.2L325.4 274.2Z" fill="#0829b0"/>
<path d="M338.5 269.6L341 274.2L336 274.2Z" fill="#0829b0"/>
<path d="M330.8 272.46L333.3 277.06L328.3 277.06Z" fill="#0829b0"/>
<path d="M336.2 273.12L338.7 277.72L333.7 277.72Z" fill="#0829b0"/>
<path d="M334.6 276.86L337.1 281.46L332.1 281.46Z" fill="#0829b0"/>
<path d="M333.7 285.88L336.2 290.48L331.2 290.48Z" fill="#0829b0"/>
<path d="M380.8 254.2L383.3 258.8L378.3 258.8Z" fill="#0829b0"/>
<path d="M386.5 258.6L389 263.2L384 263.2Z" fill="#0829b0"/>
<path d="M380.8 262.12L383.3 266.72L378.3 266.72Z" fill="#0829b0"/>
<path d="M386.5 263L389 267.6L384 267.6Z" fill="#0829b0"/>
<path d="M379.8 268.72L382.3 273.32L377.3 273.32Z" fill="#0829b0"/>
<path d="M386.9 272.46L389.4 277.06L384.4 277.06Z" fill="#0829b0"/>
<path d="M380.4 274L382.9 278.6L377.9 278.6Z" fill="#0829b0"/>
<path d="M383.7 278.4L386.2 283L381.2 283Z" fill="#0829b0"/>
<path d="M383 285L385.5 289.6L380.5 289.6Z" fill="#0829b0"/>
<path d="M433 254.2L435.5 258.8L430.5 258.8Z" fill="#0829b0"/>
<path d="M436 258.6L438.5 263.2L433.5 263.2Z" fill="#0829b0"/>
<path d="M430.2 258.6L432.7 263.2L427.7 263.2Z" fill="#0829b0"/>
<path d="M430.2 278.84L432.7 283.44L427.7 283.44Z" fill="#0829b0"/>
<path d="M436 278.84L438.5 283.44L433.5 283.44Z" fill="#0829b0"/>
<path d="M432.1 284.12L434.6 288.72L429.6 288.72Z" fill="#0829b0"/>
<path d="M483.5 242.32L486 246.92L481 246.92Z" fill="#0829b0"/>
<path d="M486.2 247.16L488.7 251.76L483.7 251.76Z" fill="#0829b0"/>
<path d="M480.8 250.24L483.3 254.84L478.3 254.84Z" fill="#0829b0"/>
<path d="M486.2 259.04L488.7 263.64L483.7 263.64Z" fill="#0829b0"/>
<path d="M480.8 262.12L483.3 266.72L478.3 266.72Z" fill="#0829b0"/>
<path d="M483.5 264.58L486 269.18L481 269.18Z" fill="#0829b0"/>
<path d="M486.2 278.4L488.7 283L483.7 283Z" fill="#0829b0"/>
<path d="M480.8 282.36L483.3 286.96L478.3 286.96Z" fill="#0829b0"/>
<path d="M433 230.22L435.5 234.82L430.5 234.82Z" fill="#0829b0"/>
<path d="M483.5 181.1L486 185.7L481 185.7Z" fill="#0829b0"/>
<path d="M350 225.38L352.5 229.98L347.5 229.98Z" fill="#cc0418"/>
<path d="M347.1 232.64L349.6 237.24L344.6 237.24Z" fill="#cc0418"/>
<path d="M352.9 237.04L355.4 241.64L350.4 241.64Z" fill="#cc0418"/>
<path d="M352.9 249.36L355.4 253.96L350.4 253.96Z" fill="#cc0418"/>
<path d="M347.1 254.2L349.6 258.8L344.6 258.8Z" fill="#cc0418"/>
<path d="M351 254.64L353.5 259.24L348.5 259.24Z" fill="#cc0418"/>
<path d="M350.4 268.1L352.9 272.7L347.9 272.7Z" fill="#cc0418"/>
<path d="M350.4 276.86L352.9 281.46L347.9 281.46Z" fill="#cc0418"/>
<path d="M400 210.64L402.5 215.24L397.5 215.24Z" fill="#cc0418"/>
<path d="M400 227.36L402.5 231.96L397.5 231.96Z" fill="#cc0418"/>
<path d="M400 240.69L402.5 245.29L397.5 245.29Z" fill="#cc0418"/>
<path d="M394.6 254.64L397.1 259.24L392.1 259.24Z" fill="#cc0418"/>
<path d="M403.8 254.64L406.3 259.24L401.3 259.24Z" fill="#cc0418"/>
<path d="M397.5 259.04L400 263.64L395 263.64Z" fill="#cc0418"/>
<path d="M403.3 259.92L405.8 264.52L400.8 264.52Z" fill="#cc0418"/>
<path d="M397.5 268.06L400 272.66L395 272.66Z" fill="#cc0418"/>
<path d="M402.7 267.31L405.2 271.91L400.2 271.91Z" fill="#cc0418"/>
<path d="M450 210.64L452.5 215.24L447.5 215.24Z" fill="#cc0418"/>
<path d="M447.4 223.4L449.9 228L444.9 228Z" fill="#cc0418"/>
<path d="M453.1 227.8L455.6 232.4L450.6 232.4Z" fill="#cc0418"/>
<path d="M450 243.2L452.5 247.8L447.5 247.8Z" fill="#cc0418"/>
<path d="M453.1 264.76L455.6 269.36L450.6 269.36Z" fill="#cc0418"/>
<path d="M446.9 268.28L449.4 272.88L444.4 272.88Z" fill="#cc0418"/>
<path d="M450.5 270.26L453 274.86L448 274.86Z" fill="#cc0418"/>
<path d="M447.4 281.48L449.9 286.08L444.9 286.08Z" fill="#cc0418"/>
<path d="M453.1 280.6L455.6 285.2L450.6 285.2Z" fill="#cc0418"/>
<path d="M497.2 227.8L499.7 232.4L494.7 232.4Z" fill="#cc0418"/>
<path d="M502.8 230.88L505.3 235.48L500.3 235.48Z" fill="#cc0418"/>
<path d="M497.2 256.18L499.7 260.78L494.7 260.78Z" fill="#cc0418"/>
<path d="M502.3 256.18L504.8 260.78L499.8 260.78Z" fill="#cc0418"/>
<path d="M499.2 257.98L501.7 262.58L496.7 262.58Z" fill="#cc0418"/>
<path d="M497.2 262.12L499.7 266.72L494.7 266.72Z" fill="#cc0418"/>
<path d="M502.8 265.64L505.3 270.24L500.3 270.24Z" fill="#cc0418"/>
<path d="M500 273.38L502.5 277.98L497.5 277.98Z" fill="#cc0418"/>
<line x1="333.7" y1="264.2" x2="333.7" y2="276.7" stroke="#1a1a1a" stroke-width="1.3"/>
<line x1="331.1" y1="264.2" x2="336.3" y2="264.2" stroke="#1a1a1a" stroke-width="1.5"/>
<line x1="331.1" y1="276.7" x2="336.3" y2="276.7" stroke="#1a1a1a" stroke-width="1.5"/>
<line x1="327.7" y1="272.9" x2="339.7" y2="272.9" stroke="#1a1a1a" stroke-width="1.7"/>
<line x1="350.4" y1="237.3" x2="350.4" y2="263.3" stroke="#1a1a1a" stroke-width="1.3"/>
<line x1="347.6" y1="237.3" x2="353.2" y2="237.3" stroke="#1a1a1a" stroke-width="1.5"/>
<line x1="347.6" y1="263.3" x2="353.2" y2="263.3" stroke="#1a1a1a" stroke-width="1.5"/>
<line x1="345.1" y1="256.5" x2="355.7" y2="256.5" stroke="#1a1a1a" stroke-width="1.7"/>
<line x1="383.4" y1="262.3" x2="383.4" y2="277.3" stroke="#1a1a1a" stroke-width="1.3"/>
<line x1="380.8" y1="262.3" x2="386" y2="262.3" stroke="#1a1a1a" stroke-width="1.5"/>
<line x1="380.8" y1="277.3" x2="386" y2="277.3" stroke="#1a1a1a" stroke-width="1.5"/>
<line x1="377.9" y1="269" x2="388.9" y2="269" stroke="#1a1a1a" stroke-width="1.7"/>
<line x1="400" y1="235.4" x2="400" y2="265.8" stroke="#1a1a1a" stroke-width="1.3"/>
<line x1="397.4" y1="235.4" x2="402.6" y2="235.4" stroke="#1a1a1a" stroke-width="1.5"/>
<line x1="397.4" y1="265.8" x2="402.6" y2="265.8" stroke="#1a1a1a" stroke-width="1.5"/>
<line x1="394.5" y1="256.5" x2="405.5" y2="256.5" stroke="#1a1a1a" stroke-width="1.7"/>
<line x1="433" y1="258.5" x2="433" y2="281.5" stroke="#1a1a1a" stroke-width="1.3"/>
<line x1="430.4" y1="258.5" x2="435.6" y2="258.5" stroke="#1a1a1a" stroke-width="1.5"/>
<line x1="430.4" y1="281.5" x2="435.6" y2="281.5" stroke="#1a1a1a" stroke-width="1.5"/>
<line x1="427.2" y1="262.7" x2="438.8" y2="262.7" stroke="#1a1a1a" stroke-width="1.7"/>
<line x1="450" y1="227.5" x2="450" y2="276.8" stroke="#1a1a1a" stroke-width="1.3"/>
<line x1="447.4" y1="227.5" x2="452.6" y2="227.5" stroke="#1a1a1a" stroke-width="1.5"/>
<line x1="447.4" y1="276.8" x2="452.6" y2="276.8" stroke="#1a1a1a" stroke-width="1.5"/>
<line x1="444.2" y1="266.8" x2="455.8" y2="266.8" stroke="#1a1a1a" stroke-width="1.7"/>
<line x1="483.5" y1="246.9" x2="483.5" y2="273.8" stroke="#1a1a1a" stroke-width="1.3"/>
<line x1="480.8" y1="246.9" x2="486.2" y2="246.9" stroke="#1a1a1a" stroke-width="1.5"/>
<line x1="480.8" y1="273.8" x2="486.2" y2="273.8" stroke="#1a1a1a" stroke-width="1.5"/>
<line x1="477.9" y1="261.5" x2="489.1" y2="261.5" stroke="#1a1a1a" stroke-width="1.7"/>
<line x1="500" y1="246.2" x2="500" y2="265.4" stroke="#1a1a1a" stroke-width="1.3"/>
<line x1="497.3" y1="246.2" x2="502.7" y2="246.2" stroke="#1a1a1a" stroke-width="1.5"/>
<line x1="497.3" y1="265.4" x2="502.7" y2="265.4" stroke="#1a1a1a" stroke-width="1.5"/>
<line x1="494.4" y1="259.7" x2="505.6" y2="259.7" stroke="#1a1a1a" stroke-width="1.7"/>
<path d="M324.4 333.2L326.8 337.6L322 337.6Z" fill="#0829b0"/>
<text x="329.8" y="338.3" font-size="8.5" textLength="14" lengthAdjust="spacingAndGlyphs" fill="#1a1a1a" stroke="#1a1a1a" stroke-width="0.12">NoR</text>
<path d="M359.6 333.2L362 337.6L357.2 337.6Z" fill="#cc0418"/>
<text x="365" y="338.3" font-size="8.5" textLength="5" lengthAdjust="spacingAndGlyphs" fill="#1a1a1a" stroke="#1a1a1a" stroke-width="0.12">R</text>
<text x="6.9" y="354" font-size="10.6" font-weight="bold" fill="#000" stroke="#000" stroke-width="0.4">E</text>
<line x1="59" y1="356.2" x2="59" y2="477" stroke="#1a1a1a" stroke-width="1.65"/>
<line x1="55.7" y1="356.3" x2="59" y2="356.3" stroke="#1a1a1a" stroke-width="1.65"/>
<text x="52.7" y="359.2" font-size="8.7" text-anchor="end" textLength="13.05" lengthAdjust="spacingAndGlyphs" fill="#1a1a1a" stroke="#1a1a1a" stroke-width="0.12">100</text>
<line x1="55.7" y1="380.44" x2="59" y2="380.44" stroke="#1a1a1a" stroke-width="1.65"/>
<text x="52.7" y="383.34" font-size="8.7" text-anchor="end" textLength="8.7" lengthAdjust="spacingAndGlyphs" fill="#1a1a1a" stroke="#1a1a1a" stroke-width="0.12">80</text>
<line x1="55.7" y1="404.58" x2="59" y2="404.58" stroke="#1a1a1a" stroke-width="1.65"/>
<text x="52.7" y="407.48" font-size="8.7" text-anchor="end" textLength="8.7" lengthAdjust="spacingAndGlyphs" fill="#1a1a1a" stroke="#1a1a1a" stroke-width="0.12">60</text>
<line x1="55.7" y1="428.72" x2="59" y2="428.72" stroke="#1a1a1a" stroke-width="1.65"/>
<text x="52.7" y="431.62" font-size="8.7" text-anchor="end" textLength="8.7" lengthAdjust="spacingAndGlyphs" fill="#1a1a1a" stroke="#1a1a1a" stroke-width="0.12">40</text>
<line x1="55.7" y1="452.86" x2="59" y2="452.86" stroke="#1a1a1a" stroke-width="1.65"/>
<text x="52.7" y="455.76" font-size="8.7" text-anchor="end" textLength="8.7" lengthAdjust="spacingAndGlyphs" fill="#1a1a1a" stroke="#1a1a1a" stroke-width="0.12">20</text>
<line x1="55.7" y1="477" x2="59" y2="477" stroke="#1a1a1a" stroke-width="1.65"/>
<text x="52.7" y="479.9" font-size="8.7" text-anchor="end" textLength="4.35" lengthAdjust="spacingAndGlyphs" fill="#1a1a1a" stroke="#1a1a1a" stroke-width="0.12">0</text>
<line x1="59" y1="477" x2="250" y2="477" stroke="#1a1a1a" stroke-width="1.65"/>
<line x1="89" y1="477" x2="89" y2="479.8" stroke="#1a1a1a" stroke-width="1.65"/>
<line x1="154.2" y1="477" x2="154.2" y2="479.8" stroke="#1a1a1a" stroke-width="1.65"/>
<line x1="218.3" y1="477" x2="218.3" y2="479.8" stroke="#1a1a1a" stroke-width="1.65"/>
<text x="89.2" y="489.7" font-size="8.2" text-anchor="middle" textLength="23.6" lengthAdjust="spacingAndGlyphs" fill="#1a1a1a" stroke="#1a1a1a" stroke-width="0.12">Top 20</text>
<text x="153.9" y="489.7" font-size="8.2" text-anchor="middle" textLength="37" lengthAdjust="spacingAndGlyphs" fill="#1a1a1a" stroke="#1a1a1a" stroke-width="0.12">Top 21&#8722;50</text>
<text x="218.5" y="489.7" font-size="8.2" text-anchor="middle" textLength="33.2" lengthAdjust="spacingAndGlyphs" fill="#1a1a1a" stroke="#1a1a1a" stroke-width="0.12">Top 51&#8722;N</text>
<text transform="translate(33.1 414.8) rotate(-90)" font-size="9.3" text-anchor="middle" textLength="59.6" lengthAdjust="spacingAndGlyphs" fill="#1a1a1a" stroke="#1a1a1a" stroke-width="0.18">CD8<tspan font-size="5.6" dy="-3.2">+</tspan><tspan dy="3.2"> Repertoire (%)</tspan></text>
<line x1="68.1" y1="389.13" x2="81.9" y2="386.72" stroke="#0829b0" stroke-width="1.25"/>
<line x1="68.1" y1="398.79" x2="81.9" y2="395.65" stroke="#0829b0" stroke-width="1.25"/>
<line x1="68.1" y1="407.96" x2="81.9" y2="407.24" stroke="#0829b0" stroke-width="1.25"/>
<line x1="68.1" y1="414.84" x2="81.9" y2="409.05" stroke="#0829b0" stroke-width="1.25"/>
<line x1="68.1" y1="419.91" x2="81.9" y2="412.55" stroke="#0829b0" stroke-width="1.25"/>
<line x1="68.1" y1="421.72" x2="81.9" y2="413.63" stroke="#0829b0" stroke-width="1.25"/>
<line x1="68.1" y1="428.72" x2="81.9" y2="421" stroke="#0829b0" stroke-width="1.25"/>
<line x1="68.1" y1="430.53" x2="81.9" y2="413.63" stroke="#0829b0" stroke-width="1.25"/>
<line x1="68.1" y1="461.31" x2="81.9" y2="449" stroke="#0829b0" stroke-width="1.25"/>
<circle cx="68.1" cy="389.13" r="2.25" fill="#0829b0"/>
<rect x="79.8" y="384.62" width="4.2" height="4.2" fill="#0829b0"/>
<circle cx="68.1" cy="398.79" r="2.25" fill="#0829b0"/>
<rect x="79.8" y="393.55" width="4.2" height="4.2" fill="#0829b0"/>
<circle cx="68.1" cy="407.96" r="2.25" fill="#0829b0"/>
<rect x="79.8" y="405.14" width="4.2" height="4.2" fill="#0829b0"/>
<circle cx="68.1" cy="414.84" r="2.25" fill="#0829b0"/>
<rect x="79.8" y="406.95" width="4.2" height="4.2" fill="#0829b0"/>
<circle cx="68.1" cy="419.91" r="2.25" fill="#0829b0"/>
<rect x="79.8" y="410.45" width="4.2" height="4.2" fill="#0829b0"/>
<circle cx="68.1" cy="421.72" r="2.25" fill="#0829b0"/>
<rect x="79.8" y="411.53" width="4.2" height="4.2" fill="#0829b0"/>
<circle cx="68.1" cy="428.72" r="2.25" fill="#0829b0"/>
<rect x="79.8" y="418.9" width="4.2" height="4.2" fill="#0829b0"/>
<circle cx="68.1" cy="430.53" r="2.25" fill="#0829b0"/>
<rect x="79.8" y="411.53" width="4.2" height="4.2" fill="#0829b0"/>
<circle cx="68.1" cy="461.31" r="2.25" fill="#0829b0"/>
<rect x="79.8" y="446.9" width="4.2" height="4.2" fill="#0829b0"/>
<line x1="95.8" y1="392.99" x2="109.6" y2="389.49" stroke="#cc0418" stroke-width="1.25"/>
<line x1="95.8" y1="398.06" x2="109.6" y2="392.39" stroke="#cc0418" stroke-width="1.25"/>
<line x1="95.8" y1="406.51" x2="109.6" y2="411.22" stroke="#cc0418" stroke-width="1.25"/>
<line x1="95.8" y1="416.53" x2="109.6" y2="414.84" stroke="#cc0418" stroke-width="1.25"/>
<line x1="95.8" y1="420.03" x2="109.6" y2="426.31" stroke="#cc0418" stroke-width="1.25"/>
<line x1="95.8" y1="420.03" x2="109.6" y2="429.93" stroke="#cc0418" stroke-width="1.25"/>
<line x1="95.8" y1="433.31" x2="109.6" y2="428.72" stroke="#cc0418" stroke-width="1.25"/>
<line x1="95.8" y1="433.31" x2="109.6" y2="434.03" stroke="#cc0418" stroke-width="1.25"/>
<circle cx="95.8" cy="392.99" r="2.25" fill="#cc0418"/>
<rect x="107.5" y="387.39" width="4.2" height="4.2" fill="#cc0418"/>
<circle cx="95.8" cy="398.06" r="2.25" fill="#cc0418"/>
<rect x="107.5" y="390.29" width="4.2" height="4.2" fill="#cc0418"/>
<circle cx="95.8" cy="406.51" r="2.25" fill="#cc0418"/>
<rect x="107.5" y="409.12" width="4.2" height="4.2" fill="#cc0418"/>
<circle cx="95.8" cy="416.53" r="2.25" fill="#cc0418"/>
<rect x="107.5" y="412.74" width="4.2" height="4.2" fill="#cc0418"/>
<circle cx="95.8" cy="420.03" r="2.25" fill="#cc0418"/>
<rect x="107.5" y="424.21" width="4.2" height="4.2" fill="#cc0418"/>
<circle cx="95.8" cy="420.03" r="2.25" fill="#cc0418"/>
<rect x="107.5" y="427.83" width="4.2" height="4.2" fill="#cc0418"/>
<circle cx="95.8" cy="433.31" r="2.25" fill="#cc0418"/>
<rect x="107.5" y="426.62" width="4.2" height="4.2" fill="#cc0418"/>
<circle cx="95.8" cy="433.31" r="2.25" fill="#cc0418"/>
<rect x="107.5" y="431.93" width="4.2" height="4.2" fill="#cc0418"/>
<line x1="132.9" y1="440.07" x2="146.9" y2="459.5" stroke="#0829b0" stroke-width="1.25"/>
<line x1="132.9" y1="456.84" x2="146.9" y2="456.84" stroke="#0829b0" stroke-width="1.25"/>
<line x1="132.9" y1="459.5" x2="146.9" y2="461.43" stroke="#0829b0" stroke-width="1.25"/>
<line x1="132.9" y1="461.43" x2="146.9" y2="459.5" stroke="#0829b0" stroke-width="1.25"/>
<line x1="132.9" y1="468.43" x2="146.9" y2="464.93" stroke="#0829b0" stroke-width="1.25"/>
<line x1="132.9" y1="458.89" x2="146.9" y2="463.72" stroke="#0829b0" stroke-width="1.25"/>
<circle cx="132.9" cy="440.07" r="2.25" fill="#0829b0"/>
<rect x="144.8" y="457.4" width="4.2" height="4.2" fill="#0829b0"/>
<circle cx="132.9" cy="456.84" r="2.25" fill="#0829b0"/>
<rect x="144.8" y="454.74" width="4.2" height="4.2" fill="#0829b0"/>
<circle cx="132.9" cy="459.5" r="2.25" fill="#0829b0"/>
<rect x="144.8" y="459.33" width="4.2" height="4.2" fill="#0829b0"/>
<circle cx="132.9" cy="461.43" r="2.25" fill="#0829b0"/>
<rect x="144.8" y="457.4" width="4.2" height="4.2" fill="#0829b0"/>
<circle cx="132.9" cy="468.43" r="2.25" fill="#0829b0"/>
<rect x="144.8" y="462.83" width="4.2" height="4.2" fill="#0829b0"/>
<circle cx="132.9" cy="458.89" r="2.25" fill="#0829b0"/>
<rect x="144.8" y="461.62" width="4.2" height="4.2" fill="#0829b0"/>
<line x1="160.9" y1="458.89" x2="174.7" y2="453.34" stroke="#cc0418" stroke-width="1.25"/>
<line x1="160.9" y1="461.31" x2="174.7" y2="457.69" stroke="#cc0418" stroke-width="1.25"/>
<line x1="160.9" y1="462.27" x2="174.7" y2="460.1" stroke="#cc0418" stroke-width="1.25"/>
<line x1="160.9" y1="464.93" x2="174.7" y2="462.52" stroke="#cc0418" stroke-width="1.25"/>
<line x1="160.9" y1="467.59" x2="174.7" y2="464.93" stroke="#cc0418" stroke-width="1.25"/>
<line x1="160.9" y1="467.34" x2="174.7" y2="467.34" stroke="#cc0418" stroke-width="1.25"/>
<line x1="160.9" y1="460.1" x2="174.7" y2="467.34" stroke="#cc0418" stroke-width="1.25"/>
<circle cx="160.9" cy="458.89" r="2.25" fill="#cc0418"/>
<rect x="172.6" y="451.24" width="4.2" height="4.2" fill="#cc0418"/>
<circle cx="160.9" cy="461.31" r="2.25" fill="#cc0418"/>
<rect x="172.6" y="455.59" width="4.2" height="4.2" fill="#cc0418"/>
<circle cx="160.9" cy="462.27" r="2.25" fill="#cc0418"/>
<rect x="172.6" y="458" width="4.2" height="4.2" fill="#cc0418"/>
<circle cx="160.9" cy="464.93" r="2.25" fill="#cc0418"/>
<rect x="172.6" y="460.42" width="4.2" height="4.2" fill="#cc0418"/>
<circle cx="160.9" cy="467.59" r="2.25" fill="#cc0418"/>
<rect x="172.6" y="462.83" width="4.2" height="4.2" fill="#cc0418"/>
<circle cx="160.9" cy="467.34" r="2.25" fill="#cc0418"/>
<rect x="172.6" y="465.24" width="4.2" height="4.2" fill="#cc0418"/>
<circle cx="160.9" cy="460.1" r="2.25" fill="#cc0418"/>
<rect x="172.6" y="465.24" width="4.2" height="4.2" fill="#cc0418"/>
<line x1="198.1" y1="380.92" x2="211.5" y2="396.98" stroke="#0829b0" stroke-width="1.25"/>
<line x1="198.1" y1="418.34" x2="211.5" y2="428.72" stroke="#0829b0" stroke-width="1.25"/>
<line x1="198.1" y1="422.32" x2="211.5" y2="440.19" stroke="#0829b0" stroke-width="1.25"/>
<line x1="198.1" y1="427.51" x2="211.5" y2="436.2" stroke="#0829b0" stroke-width="1.25"/>
<line x1="198.1" y1="436.2" x2="211.5" y2="436.2" stroke="#0829b0" stroke-width="1.25"/>
<line x1="198.1" y1="445.98" x2="211.5" y2="436.2" stroke="#0829b0" stroke-width="1.25"/>
<line x1="198.1" y1="450.57" x2="211.5" y2="444.89" stroke="#0829b0" stroke-width="1.25"/>
<line x1="198.1" y1="454.07" x2="211.5" y2="455.88" stroke="#0829b0" stroke-width="1.25"/>
<line x1="198.1" y1="461.55" x2="211.5" y2="462.76" stroke="#0829b0" stroke-width="1.25"/>
<circle cx="198.1" cy="380.92" r="2.25" fill="#0829b0"/>
<rect x="209.4" y="394.88" width="4.2" height="4.2" fill="#0829b0"/>
<circle cx="198.1" cy="418.34" r="2.25" fill="#0829b0"/>
<rect x="209.4" y="426.62" width="4.2" height="4.2" fill="#0829b0"/>
<circle cx="198.1" cy="422.32" r="2.25" fill="#0829b0"/>
<rect x="209.4" y="438.09" width="4.2" height="4.2" fill="#0829b0"/>
<circle cx="198.1" cy="427.51" r="2.25" fill="#0829b0"/>
<rect x="209.4" y="434.1" width="4.2" height="4.2" fill="#0829b0"/>
<circle cx="198.1" cy="436.2" r="2.25" fill="#0829b0"/>
<rect x="209.4" y="434.1" width="4.2" height="4.2" fill="#0829b0"/>
<circle cx="198.1" cy="445.98" r="2.25" fill="#0829b0"/>
<rect x="209.4" y="434.1" width="4.2" height="4.2" fill="#0829b0"/>
<circle cx="198.1" cy="450.57" r="2.25" fill="#0829b0"/>
<rect x="209.4" y="442.79" width="4.2" height="4.2" fill="#0829b0"/>
<circle cx="198.1" cy="454.07" r="2.25" fill="#0829b0"/>
<rect x="209.4" y="453.78" width="4.2" height="4.2" fill="#0829b0"/>
<circle cx="198.1" cy="461.55" r="2.25" fill="#0829b0"/>
<rect x="209.4" y="460.66" width="4.2" height="4.2" fill="#0829b0"/>
<line x1="225.8" y1="416.65" x2="239" y2="423.89" stroke="#cc0418" stroke-width="1.25"/>
<line x1="225.8" y1="416.65" x2="239" y2="427.51" stroke="#cc0418" stroke-width="1.25"/>
<line x1="225.8" y1="433.55" x2="239" y2="417.86" stroke="#cc0418" stroke-width="1.25"/>
<line x1="225.8" y1="433.55" x2="239" y2="421.48" stroke="#cc0418" stroke-width="1.25"/>
<line x1="225.8" y1="440.79" x2="239" y2="436.2" stroke="#cc0418" stroke-width="1.25"/>
<line x1="225.8" y1="442.6" x2="239" y2="439.58" stroke="#cc0418" stroke-width="1.25"/>
<line x1="225.8" y1="440.79" x2="239" y2="449.24" stroke="#cc0418" stroke-width="1.25"/>
<line x1="225.8" y1="453.46" x2="239" y2="455.27" stroke="#cc0418" stroke-width="1.25"/>
<circle cx="225.8" cy="416.65" r="2.25" fill="#cc0418"/>
<rect x="236.9" y="421.79" width="4.2" height="4.2" fill="#cc0418"/>
<circle cx="225.8" cy="416.65" r="2.25" fill="#cc0418"/>
<rect x="236.9" y="425.41" width="4.2" height="4.2" fill="#cc0418"/>
<circle cx="225.8" cy="433.55" r="2.25" fill="#cc0418"/>
<rect x="236.9" y="415.76" width="4.2" height="4.2" fill="#cc0418"/>
<circle cx="225.8" cy="433.55" r="2.25" fill="#cc0418"/>
<rect x="236.9" y="419.38" width="4.2" height="4.2" fill="#cc0418"/>
<circle cx="225.8" cy="440.79" r="2.25" fill="#cc0418"/>
<rect x="236.9" y="434.1" width="4.2" height="4.2" fill="#cc0418"/>
<circle cx="225.8" cy="442.6" r="2.25" fill="#cc0418"/>
<rect x="236.9" y="437.48" width="4.2" height="4.2" fill="#cc0418"/>
<circle cx="225.8" cy="440.79" r="2.25" fill="#cc0418"/>
<rect x="236.9" y="447.14" width="4.2" height="4.2" fill="#cc0418"/>
<circle cx="225.8" cy="453.46" r="2.25" fill="#cc0418"/>
<rect x="236.9" y="453.17" width="4.2" height="4.2" fill="#cc0418"/>
<line x1="67.4" y1="354" x2="83.5" y2="354" stroke="#1a1a1a" stroke-width="1.4"/>
<path d="M73.45 348.7L73.95 349.71L75.07 349.87L74.26 350.66L74.45 351.78L73.45 351.25L72.45 351.78L72.64 350.66L71.83 349.87L72.95 349.71Z" fill="#111"/>
<path d="M77.45 348.7L77.95 349.71L79.07 349.87L78.26 350.66L78.45 351.78L77.45 351.25L76.45 351.78L76.64 350.66L75.83 349.87L76.95 349.71Z" fill="#111"/>
<line x1="95" y1="354" x2="110.8" y2="354" stroke="#1a1a1a" stroke-width="1.4"/>
<text x="102.9" y="352.2" font-size="6.9" text-anchor="middle" fill="#555">ns</text>
<line x1="132.1" y1="354" x2="148.3" y2="354" stroke="#1a1a1a" stroke-width="1.4"/>
<text x="140.2" y="352.2" font-size="6.9" text-anchor="middle" fill="#555">ns</text>
<line x1="159.8" y1="354" x2="175.7" y2="354" stroke="#1a1a1a" stroke-width="1.4"/>
<text x="167.75" y="352.2" font-size="6.9" text-anchor="middle" fill="#555">ns</text>
<line x1="197.3" y1="354" x2="213.4" y2="354" stroke="#1a1a1a" stroke-width="1.4"/>
<text x="205.35" y="352.2" font-size="6.9" text-anchor="middle" fill="#555">ns</text>
<line x1="224.2" y1="354" x2="240.4" y2="354" stroke="#1a1a1a" stroke-width="1.4"/>
<text x="232.3" y="352.2" font-size="6.9" text-anchor="middle" fill="#555">ns</text>
<line x1="53.1" y1="499.3" x2="63.9" y2="499.3" stroke="#0829b0" stroke-width="1.1"/>
<circle cx="58.5" cy="499.3" r="2.2" fill="#0829b0"/>
<text x="67.5" y="502" font-size="8" textLength="26.5" lengthAdjust="spacingAndGlyphs" fill="#1a1a1a" stroke="#1a1a1a" stroke-width="0.12">Pre-NoR</text>
<line x1="101.8" y1="499.3" x2="112.6" y2="499.3" stroke="#0829b0" stroke-width="1.1"/>
<rect x="105.1" y="497.2" width="4.2" height="4.2" fill="#0829b0"/>
<text x="115.5" y="502" font-size="8" textLength="33.5" lengthAdjust="spacingAndGlyphs" fill="#1a1a1a" stroke="#1a1a1a" stroke-width="0.12">d+14 NoR</text>
<line x1="155.9" y1="499.3" x2="166.7" y2="499.3" stroke="#cc0418" stroke-width="1.1"/>
<circle cx="161.3" cy="499.3" r="2.2" fill="#cc0418"/>
<text x="170.1" y="502" font-size="8" textLength="16.9" lengthAdjust="spacingAndGlyphs" fill="#1a1a1a" stroke="#1a1a1a" stroke-width="0.12">Pre-R</text>
<line x1="196.1" y1="499.3" x2="206.9" y2="499.3" stroke="#cc0418" stroke-width="1.1"/>
<rect x="199.4" y="497.2" width="4.2" height="4.2" fill="#cc0418"/>
<text x="209.7" y="502" font-size="8" textLength="24.5" lengthAdjust="spacingAndGlyphs" fill="#1a1a1a" stroke="#1a1a1a" stroke-width="0.12">d+14 R</text>
<text x="278.9" y="354" font-size="10.6" font-weight="bold" fill="#000" stroke="#000" stroke-width="0.4">F</text>
<line x1="321.8" y1="356.2" x2="321.8" y2="476.5" stroke="#1a1a1a" stroke-width="1.65"/>
<line x1="319" y1="356.1" x2="321.8" y2="356.1" stroke="#1a1a1a" stroke-width="1.65"/>
<text x="316.8" y="359" font-size="8.7" text-anchor="end" textLength="8.7" lengthAdjust="spacingAndGlyphs" fill="#1a1a1a" stroke="#1a1a1a" stroke-width="0.12">20</text>
<line x1="319" y1="386.2" x2="321.8" y2="386.2" stroke="#1a1a1a" stroke-width="1.65"/>
<text x="316.8" y="389.1" font-size="8.7" text-anchor="end" textLength="8.7" lengthAdjust="spacingAndGlyphs" fill="#1a1a1a" stroke="#1a1a1a" stroke-width="0.12">10</text>
<line x1="319" y1="416.3" x2="321.8" y2="416.3" stroke="#1a1a1a" stroke-width="1.65"/>
<text x="316.8" y="419.2" font-size="8.7" text-anchor="end" textLength="4.35" lengthAdjust="spacingAndGlyphs" fill="#1a1a1a" stroke="#1a1a1a" stroke-width="0.12">0</text>
<line x1="319" y1="446.4" x2="321.8" y2="446.4" stroke="#1a1a1a" stroke-width="1.65"/>
<text x="316.8" y="449.3" font-size="8.7" text-anchor="end" textLength="13.3" lengthAdjust="spacingAndGlyphs" fill="#1a1a1a" stroke="#1a1a1a" stroke-width="0.12">&#8722;10</text>
<line x1="319" y1="476.5" x2="321.8" y2="476.5" stroke="#1a1a1a" stroke-width="1.65"/>
<text x="316.8" y="479.4" font-size="8.7" text-anchor="end" textLength="13.3" lengthAdjust="spacingAndGlyphs" fill="#1a1a1a" stroke="#1a1a1a" stroke-width="0.12">&#8722;20</text>
<line x1="321.8" y1="476.5" x2="512.8" y2="476.5" stroke="#1a1a1a" stroke-width="1.65"/>
<line x1="348.8" y1="476.5" x2="348.8" y2="479.3" stroke="#1a1a1a" stroke-width="1.65"/>
<line x1="416.7" y1="476.5" x2="416.7" y2="479.3" stroke="#1a1a1a" stroke-width="1.65"/>
<line x1="484.8" y1="476.5" x2="484.8" y2="479.3" stroke="#1a1a1a" stroke-width="1.65"/>
<line x1="323" y1="416.85" x2="514" y2="416.85" stroke="#3a3a3a" stroke-width="1.8" stroke-dasharray="1 1"/>
<text x="349" y="488.9" font-size="8.2" text-anchor="middle" textLength="23.9" lengthAdjust="spacingAndGlyphs" fill="#1a1a1a" stroke="#1a1a1a" stroke-width="0.12">Top 20</text>
<text x="417" y="488.9" font-size="8.2" text-anchor="middle" textLength="37" lengthAdjust="spacingAndGlyphs" fill="#1a1a1a" stroke="#1a1a1a" stroke-width="0.12">Top 21&#8722;50</text>
<text x="485.1" y="488.9" font-size="8.2" text-anchor="middle" textLength="33.2" lengthAdjust="spacingAndGlyphs" fill="#1a1a1a" stroke="#1a1a1a" stroke-width="0.12">Top 51&#8722;N</text>
<text transform="translate(299.4 416.2) rotate(-90)" font-size="9.3" text-anchor="middle" textLength="65.7" lengthAdjust="spacingAndGlyphs" fill="#1a1a1a" stroke="#1a1a1a" stroke-width="0.18">&#916; CD8<tspan font-size="5.6" dy="-3.2">+</tspan><tspan dy="3.2"> Repertoire (%)</tspan></text>
<line x1="338" y1="353.5" x2="359.2" y2="353.5" stroke="#1a1a1a" stroke-width="1.4"/>
<path d="M348.6 348.2L349.1 349.21L350.22 349.37L349.41 350.16L349.6 351.28L348.6 350.75L347.6 351.28L347.79 350.16L346.98 349.37L348.1 349.21Z" fill="#111"/>
<line x1="406" y1="353.5" x2="427.1" y2="353.5" stroke="#1a1a1a" stroke-width="1.4"/>
<text x="416.55" y="351.7" font-size="6.9" text-anchor="middle" fill="#555">ns</text>
<line x1="474.4" y1="353.5" x2="495.5" y2="353.5" stroke="#1a1a1a" stroke-width="1.4"/>
<text x="484.95" y="351.7" font-size="6.9" text-anchor="middle" fill="#555">ns</text>
<path d="M337.3 377.28L339.8 381.88L334.8 381.88Z" fill="#0829b0"/>
<path d="M337.3 385.1L339.8 389.7L334.8 389.7Z" fill="#0829b0"/>
<path d="M331.5 391.12L334 395.72L329 395.72Z" fill="#0829b0"/>
<path d="M342.6 392.03L345.1 396.63L340.1 396.63Z" fill="#0829b0"/>
<path d="M333.8 407.08L336.3 411.68L331.3 411.68Z" fill="#0829b0"/>
<path d="M342.6 407.38L345.1 411.98L340.1 411.98Z" fill="#0829b0"/>
<path d="M339.6 410.39L342.1 414.99L337.1 414.99Z" fill="#0829b0"/>
<path d="M334.3 414.3L336.8 418.9L331.8 418.9Z" fill="#0829b0"/>
<path d="M405.5 405.57L408 410.17L403 410.17Z" fill="#0829b0"/>
<path d="M401.2 411.29L403.7 415.89L398.7 415.89Z" fill="#0829b0"/>
<path d="M410.4 412.8L412.9 417.4L407.9 417.4Z" fill="#0829b0"/>
<path d="M400.3 416.41L402.8 421.01L397.8 421.01Z" fill="#0829b0"/>
<path d="M405.5 416.71L408 421.31L403 421.31Z" fill="#0829b0"/>
<path d="M406.9 419.42L409.4 424.02L404.4 424.02Z" fill="#0829b0"/>
<path d="M410.4 418.51L412.9 423.12L407.9 423.12Z" fill="#0829b0"/>
<path d="M405.5 460.96L408 465.56L403 465.56Z" fill="#0829b0"/>
<path d="M473.3 391.43L475.8 396.03L470.8 396.03Z" fill="#0829b0"/>
<path d="M468.1 414L470.6 418.6L465.6 418.6Z" fill="#0829b0"/>
<path d="M479 414L481.5 418.6L476.5 418.6Z" fill="#0829b0"/>
<path d="M473.3 415.5L475.8 420.11L470.8 420.11Z" fill="#0829b0"/>
<path d="M469.5 440.49L472 445.09L467 445.09Z" fill="#0829b0"/>
<path d="M477.3 440.49L479.8 445.09L474.8 445.09Z" fill="#0829b0"/>
<path d="M470.4 453.73L472.9 458.33L467.9 458.33Z" fill="#0829b0"/>
<path d="M476.7 453.73L479.2 458.33L474.2 458.33Z" fill="#0829b0"/>
<path d="M355.1 398.95L357.6 403.55L352.6 403.55Z" fill="#cc0418"/>
<path d="M365 399.55L367.5 404.15L362.5 404.15Z" fill="#cc0418"/>
<path d="M360.4 403.46L362.9 408.06L357.9 408.06Z" fill="#cc0418"/>
<path d="M356.9 411.59L359.4 416.19L354.4 416.19Z" fill="#cc0418"/>
<path d="M362.7 423.63L365.2 428.23L360.2 428.23Z" fill="#cc0418"/>
<path d="M356.9 429.65L359.4 434.25L354.4 434.25Z" fill="#cc0418"/>
<path d="M360.4 436.57L362.9 441.18L357.9 441.18Z" fill="#cc0418"/>
<path d="M360.4 448.62L362.9 453.22L357.9 453.22Z" fill="#cc0418"/>
<path d="M428.6 398.95L431.1 403.55L426.1 403.55Z" fill="#cc0418"/>
<path d="M428.6 406.78L431.1 411.38L426.1 411.38Z" fill="#cc0418"/>
<path d="M424.2 412.8L426.7 417.4L421.7 417.4Z" fill="#cc0418"/>
<path d="M432 413.7L434.5 418.3L429.5 418.3Z" fill="#cc0418"/>
<path d="M424.8 417.01L427.3 421.61L422.3 421.61Z" fill="#cc0418"/>
<path d="M431 417.01L433.5 421.61L428.5 421.61Z" fill="#cc0418"/>
<path d="M427.7 421.22L430.2 425.82L425.2 425.82Z" fill="#cc0418"/>
<path d="M431 421.22L433.5 425.82L428.5 425.82Z" fill="#cc0418"/>
<path d="M496 376.07L498.5 380.67L493.5 380.67Z" fill="#cc0418"/>
<path d="M496 385.71L498.5 390.31L493.5 390.31Z" fill="#cc0418"/>
<path d="M493.4 398.05L495.9 402.65L490.9 402.65Z" fill="#cc0418"/>
<path d="M499.2 401.96L501.7 406.56L496.7 406.56Z" fill="#cc0418"/>
<path d="M496 420.32L498.5 424.92L493.5 424.92Z" fill="#cc0418"/>
<path d="M491.1 431.46L493.6 436.06L488.6 436.06Z" fill="#cc0418"/>
<path d="M501.2 431.46L503.7 436.06L498.7 436.06Z" fill="#cc0418"/>
<path d="M496 433.56L498.5 438.17L493.5 438.17Z" fill="#cc0418"/>
<line x1="337.3" y1="388.5" x2="337.3" y2="411.1" stroke="#1a1a1a" stroke-width="1.3"/>
<line x1="333.7" y1="388.5" x2="340.9" y2="388.5" stroke="#1a1a1a" stroke-width="1.5"/>
<line x1="333.7" y1="411.1" x2="340.9" y2="411.1" stroke="#1a1a1a" stroke-width="1.5"/>
<line x1="329.7" y1="393.5" x2="344.9" y2="393.5" stroke="#1a1a1a" stroke-width="1.7"/>
<line x1="360.4" y1="403.5" x2="360.4" y2="434.6" stroke="#1a1a1a" stroke-width="1.3"/>
<line x1="356.8" y1="403.5" x2="364" y2="403.5" stroke="#1a1a1a" stroke-width="1.5"/>
<line x1="356.8" y1="434.6" x2="364" y2="434.6" stroke="#1a1a1a" stroke-width="1.5"/>
<line x1="352.3" y1="412.7" x2="368.5" y2="412.7" stroke="#1a1a1a" stroke-width="1.7"/>
<line x1="405.5" y1="414" x2="405.5" y2="420.7" stroke="#1a1a1a" stroke-width="1.3"/>
<line x1="401.9" y1="414" x2="409.1" y2="414" stroke="#1a1a1a" stroke-width="1.5"/>
<line x1="401.9" y1="420.7" x2="409.1" y2="420.7" stroke="#1a1a1a" stroke-width="1.5"/>
<line x1="398.2" y1="416.9" x2="412.8" y2="416.9" stroke="#1a1a1a" stroke-width="1.7"/>
<line x1="428.6" y1="411.1" x2="428.6" y2="421.5" stroke="#1a1a1a" stroke-width="1.3"/>
<line x1="425" y1="411.1" x2="432.2" y2="411.1" stroke="#1a1a1a" stroke-width="1.5"/>
<line x1="425" y1="421.5" x2="432.2" y2="421.5" stroke="#1a1a1a" stroke-width="1.5"/>
<line x1="421.3" y1="418.6" x2="435.9" y2="418.6" stroke="#1a1a1a" stroke-width="1.7"/>
<line x1="473.3" y1="416.3" x2="473.3" y2="449.5" stroke="#1a1a1a" stroke-width="1.3"/>
<line x1="469.7" y1="416.3" x2="476.9" y2="416.3" stroke="#1a1a1a" stroke-width="1.5"/>
<line x1="469.7" y1="449.5" x2="476.9" y2="449.5" stroke="#1a1a1a" stroke-width="1.5"/>
<line x1="465.7" y1="420.1" x2="480.9" y2="420.1" stroke="#1a1a1a" stroke-width="1.7"/>
<line x1="496" y1="394.1" x2="496" y2="433.6" stroke="#1a1a1a" stroke-width="1.3"/>
<line x1="492.4" y1="394.1" x2="499.6" y2="394.1" stroke="#1a1a1a" stroke-width="1.5"/>
<line x1="492.4" y1="433.6" x2="499.6" y2="433.6" stroke="#1a1a1a" stroke-width="1.5"/>
<line x1="488.4" y1="421.5" x2="503.6" y2="421.5" stroke="#1a1a1a" stroke-width="1.7"/>
<path d="M314.8 500.5L317.2 504.9L312.4 504.9Z" fill="#0829b0"/>
<text x="319.6" y="505.6" font-size="8.5" textLength="14" lengthAdjust="spacingAndGlyphs" fill="#1a1a1a" stroke="#1a1a1a" stroke-width="0.12">NoR</text>
<path d="M344 500.5L346.4 504.9L341.6 504.9Z" fill="#cc0418"/>
<text x="348.8" y="505.6" font-size="8.5" textLength="5" lengthAdjust="spacingAndGlyphs" fill="#1a1a1a" stroke="#1a1a1a" stroke-width="0.12">R</text>
<text x="6.9" y="520.9" font-size="10.6" font-weight="bold" fill="#000" stroke="#000" stroke-width="0.4">G</text>
<line x1="59" y1="522.3" x2="59" y2="643.4" stroke="#1a1a1a" stroke-width="1.65"/>
<line x1="55.7" y1="522.4" x2="59" y2="522.4" stroke="#1a1a1a" stroke-width="1.65"/>
<text x="52.7" y="525.3" font-size="8.7" text-anchor="end" textLength="13.05" lengthAdjust="spacingAndGlyphs" fill="#1a1a1a" stroke="#1a1a1a" stroke-width="0.12">100</text>
<line x1="55.7" y1="546.6" x2="59" y2="546.6" stroke="#1a1a1a" stroke-width="1.65"/>
<text x="52.7" y="549.5" font-size="8.7" text-anchor="end" textLength="8.7" lengthAdjust="spacingAndGlyphs" fill="#1a1a1a" stroke="#1a1a1a" stroke-width="0.12">80</text>
<line x1="55.7" y1="570.8" x2="59" y2="570.8" stroke="#1a1a1a" stroke-width="1.65"/>
<text x="52.7" y="573.7" font-size="8.7" text-anchor="end" textLength="8.7" lengthAdjust="spacingAndGlyphs" fill="#1a1a1a" stroke="#1a1a1a" stroke-width="0.12">60</text>
<line x1="55.7" y1="595" x2="59" y2="595" stroke="#1a1a1a" stroke-width="1.65"/>
<text x="52.7" y="597.9" font-size="8.7" text-anchor="end" textLength="8.7" lengthAdjust="spacingAndGlyphs" fill="#1a1a1a" stroke="#1a1a1a" stroke-width="0.12">40</text>
<line x1="55.7" y1="619.2" x2="59" y2="619.2" stroke="#1a1a1a" stroke-width="1.65"/>
<text x="52.7" y="622.1" font-size="8.7" text-anchor="end" textLength="8.7" lengthAdjust="spacingAndGlyphs" fill="#1a1a1a" stroke="#1a1a1a" stroke-width="0.12">20</text>
<line x1="55.7" y1="643.4" x2="59" y2="643.4" stroke="#1a1a1a" stroke-width="1.65"/>
<text x="52.7" y="646.3" font-size="8.7" text-anchor="end" textLength="4.35" lengthAdjust="spacingAndGlyphs" fill="#1a1a1a" stroke="#1a1a1a" stroke-width="0.12">0</text>
<line x1="59" y1="643.4" x2="249" y2="643.4" stroke="#1a1a1a" stroke-width="1.65"/>
<line x1="89" y1="643.4" x2="89" y2="646.2" stroke="#1a1a1a" stroke-width="1.65"/>
<line x1="154" y1="643.4" x2="154" y2="646.2" stroke="#1a1a1a" stroke-width="1.65"/>
<line x1="218.4" y1="643.4" x2="218.4" y2="646.2" stroke="#1a1a1a" stroke-width="1.65"/>
<text x="89.3" y="655.6" font-size="8.2" text-anchor="middle" textLength="24" lengthAdjust="spacingAndGlyphs" fill="#1a1a1a" stroke="#1a1a1a" stroke-width="0.12">Top 20</text>
<text x="154" y="655.6" font-size="8.2" text-anchor="middle" textLength="33" lengthAdjust="spacingAndGlyphs" fill="#1a1a1a" stroke="#1a1a1a" stroke-width="0.12">Top 21&#8722;N</text>
<text x="218.7" y="655.6" font-size="8.2" text-anchor="middle" textLength="42" lengthAdjust="spacingAndGlyphs" fill="#1a1a1a" stroke="#1a1a1a" stroke-width="0.12">Total overlap</text>
<text transform="translate(22.7 580.5) rotate(-90)" font-size="9.3" text-anchor="middle" textLength="76" lengthAdjust="spacingAndGlyphs" fill="#1a1a1a" stroke="#1a1a1a" stroke-width="0.18">Overlapping clones of total</text>
<text transform="translate(33 582.2) rotate(-90)" font-size="9.3" text-anchor="middle" textLength="56" lengthAdjust="spacingAndGlyphs" fill="#1a1a1a" stroke="#1a1a1a" stroke-width="0.18">CD8<tspan font-size="5.6" dy="-3.2">+</tspan><tspan dy="3.2"> Repertoire (%)</tspan></text>
<line x1="68.1" y1="555.81" x2="81.9" y2="553.03" stroke="#0829b0" stroke-width="1.25"/>
<line x1="68.1" y1="582.92" x2="81.9" y2="574.81" stroke="#0829b0" stroke-width="1.25"/>
<line x1="68.1" y1="585.7" x2="81.9" y2="577.71" stroke="#0829b0" stroke-width="1.25"/>
<line x1="68.1" y1="592.6" x2="81.9" y2="580.01" stroke="#0829b0" stroke-width="1.25"/>
<line x1="68.1" y1="600.22" x2="81.9" y2="587.63" stroke="#0829b0" stroke-width="1.25"/>
<line x1="68.1" y1="606.39" x2="81.9" y2="580.01" stroke="#0829b0" stroke-width="1.25"/>
<line x1="68.1" y1="617.88" x2="81.9" y2="597.8" stroke="#0829b0" stroke-width="1.25"/>
<line x1="68.1" y1="631.44" x2="81.9" y2="615.83" stroke="#0829b0" stroke-width="1.25"/>
<circle cx="68.1" cy="555.81" r="2.25" fill="#0829b0"/>
<rect x="79.8" y="550.93" width="4.2" height="4.2" fill="#0829b0"/>
<circle cx="68.1" cy="582.92" r="2.25" fill="#0829b0"/>
<rect x="79.8" y="572.71" width="4.2" height="4.2" fill="#0829b0"/>
<circle cx="68.1" cy="585.7" r="2.25" fill="#0829b0"/>
<rect x="79.8" y="575.61" width="4.2" height="4.2" fill="#0829b0"/>
<circle cx="68.1" cy="592.6" r="2.25" fill="#0829b0"/>
<rect x="79.8" y="577.91" width="4.2" height="4.2" fill="#0829b0"/>
<circle cx="68.1" cy="600.22" r="2.25" fill="#0829b0"/>
<rect x="79.8" y="585.53" width="4.2" height="4.2" fill="#0829b0"/>
<circle cx="68.1" cy="606.39" r="2.25" fill="#0829b0"/>
<rect x="79.8" y="577.91" width="4.2" height="4.2" fill="#0829b0"/>
<circle cx="68.1" cy="617.88" r="2.25" fill="#0829b0"/>
<rect x="79.8" y="595.7" width="4.2" height="4.2" fill="#0829b0"/>
<circle cx="68.1" cy="631.44" r="2.25" fill="#0829b0"/>
<rect x="79.8" y="613.73" width="4.2" height="4.2" fill="#0829b0"/>
<line x1="95.8" y1="559.93" x2="109.6" y2="555.33" stroke="#cc0418" stroke-width="1.25"/>
<line x1="95.8" y1="565.49" x2="109.6" y2="558.6" stroke="#cc0418" stroke-width="1.25"/>
<line x1="95.8" y1="578.44" x2="109.6" y2="576.5" stroke="#cc0418" stroke-width="1.25"/>
<line x1="95.8" y1="584.61" x2="109.6" y2="580.01" stroke="#cc0418" stroke-width="1.25"/>
<line x1="95.8" y1="586.91" x2="109.6" y2="595.02" stroke="#cc0418" stroke-width="1.25"/>
<line x1="95.8" y1="595.02" x2="109.6" y2="592.6" stroke="#cc0418" stroke-width="1.25"/>
<line x1="95.8" y1="601.91" x2="109.6" y2="593.68" stroke="#cc0418" stroke-width="1.25"/>
<line x1="95.8" y1="624.42" x2="109.6" y2="600.94" stroke="#cc0418" stroke-width="1.25"/>
<circle cx="95.8" cy="559.93" r="2.25" fill="#cc0418"/>
<rect x="107.5" y="553.23" width="4.2" height="4.2" fill="#cc0418"/>
<circle cx="95.8" cy="565.49" r="2.25" fill="#cc0418"/>
<rect x="107.5" y="556.5" width="4.2" height="4.2" fill="#cc0418"/>
<circle cx="95.8" cy="578.44" r="2.25" fill="#cc0418"/>
<rect x="107.5" y="574.4" width="4.2" height="4.2" fill="#cc0418"/>
<circle cx="95.8" cy="584.61" r="2.25" fill="#cc0418"/>
<rect x="107.5" y="577.91" width="4.2" height="4.2" fill="#cc0418"/>
<circle cx="95.8" cy="586.91" r="2.25" fill="#cc0418"/>
<rect x="107.5" y="592.92" width="4.2" height="4.2" fill="#cc0418"/>
<circle cx="95.8" cy="595.02" r="2.25" fill="#cc0418"/>
<rect x="107.5" y="590.5" width="4.2" height="4.2" fill="#cc0418"/>
<circle cx="95.8" cy="601.91" r="2.25" fill="#cc0418"/>
<rect x="107.5" y="591.58" width="4.2" height="4.2" fill="#cc0418"/>
<circle cx="95.8" cy="624.42" r="2.25" fill="#cc0418"/>
<rect x="107.5" y="598.84" width="4.2" height="4.2" fill="#cc0418"/>
<line x1="132.9" y1="576.14" x2="146.9" y2="591.87" stroke="#0829b0" stroke-width="1.25"/>
<line x1="132.9" y1="586.42" x2="146.9" y2="593.08" stroke="#0829b0" stroke-width="1.25"/>
<line x1="132.9" y1="593.32" x2="146.9" y2="610.5" stroke="#0829b0" stroke-width="1.25"/>
<line x1="132.9" y1="598.16" x2="146.9" y2="601.55" stroke="#0829b0" stroke-width="1.25"/>
<line x1="132.9" y1="606.51" x2="146.9" y2="600.94" stroke="#0829b0" stroke-width="1.25"/>
<line x1="132.9" y1="610.38" x2="146.9" y2="610.5" stroke="#0829b0" stroke-width="1.25"/>
<line x1="132.9" y1="614.98" x2="146.9" y2="617.52" stroke="#0829b0" stroke-width="1.25"/>
<circle cx="132.9" cy="576.14" r="2.25" fill="#0829b0"/>
<rect x="144.8" y="589.77" width="4.2" height="4.2" fill="#0829b0"/>
<circle cx="132.9" cy="586.42" r="2.25" fill="#0829b0"/>
<rect x="144.8" y="590.98" width="4.2" height="4.2" fill="#0829b0"/>
<circle cx="132.9" cy="593.32" r="2.25" fill="#0829b0"/>
<rect x="144.8" y="608.4" width="4.2" height="4.2" fill="#0829b0"/>
<circle cx="132.9" cy="598.16" r="2.25" fill="#0829b0"/>
<rect x="144.8" y="599.45" width="4.2" height="4.2" fill="#0829b0"/>
<circle cx="132.9" cy="606.51" r="2.25" fill="#0829b0"/>
<rect x="144.8" y="598.84" width="4.2" height="4.2" fill="#0829b0"/>
<circle cx="132.9" cy="610.38" r="2.25" fill="#0829b0"/>
<rect x="144.8" y="608.4" width="4.2" height="4.2" fill="#0829b0"/>
<circle cx="132.9" cy="614.98" r="2.25" fill="#0829b0"/>
<rect x="144.8" y="615.42" width="4.2" height="4.2" fill="#0829b0"/>
<line x1="160.9" y1="584" x2="174.7" y2="588.24" stroke="#cc0418" stroke-width="1.25"/>
<line x1="160.9" y1="587.39" x2="174.7" y2="591.26" stroke="#cc0418" stroke-width="1.25"/>
<line x1="160.9" y1="587.39" x2="174.7" y2="593.44" stroke="#cc0418" stroke-width="1.25"/>
<line x1="160.9" y1="594.89" x2="174.7" y2="589.45" stroke="#cc0418" stroke-width="1.25"/>
<line x1="160.9" y1="594.89" x2="174.7" y2="601.55" stroke="#cc0418" stroke-width="1.25"/>
<line x1="160.9" y1="593.08" x2="174.7" y2="617.04" stroke="#cc0418" stroke-width="1.25"/>
<line x1="160.9" y1="612.56" x2="174.7" y2="617.04" stroke="#cc0418" stroke-width="1.25"/>
<line x1="160.9" y1="624.06" x2="174.7" y2="624.9" stroke="#cc0418" stroke-width="1.25"/>
<circle cx="160.9" cy="584" r="2.25" fill="#cc0418"/>
<rect x="172.6" y="586.14" width="4.2" height="4.2" fill="#cc0418"/>
<circle cx="160.9" cy="587.39" r="2.25" fill="#cc0418"/>
<rect x="172.6" y="589.16" width="4.2" height="4.2" fill="#cc0418"/>
<circle cx="160.9" cy="587.39" r="2.25" fill="#cc0418"/>
<rect x="172.6" y="591.34" width="4.2" height="4.2" fill="#cc0418"/>
<circle cx="160.9" cy="594.89" r="2.25" fill="#cc0418"/>
<rect x="172.6" y="587.35" width="4.2" height="4.2" fill="#cc0418"/>
<circle cx="160.9" cy="594.89" r="2.25" fill="#cc0418"/>
<rect x="172.6" y="599.45" width="4.2" height="4.2" fill="#cc0418"/>
<circle cx="160.9" cy="593.08" r="2.25" fill="#cc0418"/>
<rect x="172.6" y="614.94" width="4.2" height="4.2" fill="#cc0418"/>
<circle cx="160.9" cy="612.56" r="2.25" fill="#cc0418"/>
<rect x="172.6" y="614.94" width="4.2" height="4.2" fill="#cc0418"/>
<circle cx="160.9" cy="624.06" r="2.25" fill="#cc0418"/>
<rect x="172.6" y="622.8" width="4.2" height="4.2" fill="#cc0418"/>
<line x1="198.1" y1="526.53" x2="211.5" y2="524.71" stroke="#0829b0" stroke-width="1.25"/>
<line x1="198.1" y1="526.77" x2="211.5" y2="527.13" stroke="#0829b0" stroke-width="1.25"/>
<line x1="198.1" y1="534.64" x2="211.5" y2="527.13" stroke="#0829b0" stroke-width="1.25"/>
<line x1="198.1" y1="537.54" x2="211.5" y2="542.26" stroke="#0829b0" stroke-width="1.25"/>
<line x1="198.1" y1="542.14" x2="211.5" y2="533.18" stroke="#0829b0" stroke-width="1.25"/>
<line x1="198.1" y1="551.46" x2="211.5" y2="544.32" stroke="#0829b0" stroke-width="1.25"/>
<line x1="198.1" y1="597.8" x2="211.5" y2="574.45" stroke="#0829b0" stroke-width="1.25"/>
<circle cx="198.1" cy="526.53" r="2.25" fill="#0829b0"/>
<rect x="209.4" y="522.61" width="4.2" height="4.2" fill="#0829b0"/>
<circle cx="198.1" cy="526.77" r="2.25" fill="#0829b0"/>
<rect x="209.4" y="525.03" width="4.2" height="4.2" fill="#0829b0"/>
<circle cx="198.1" cy="534.64" r="2.25" fill="#0829b0"/>
<rect x="209.4" y="525.03" width="4.2" height="4.2" fill="#0829b0"/>
<circle cx="198.1" cy="537.54" r="2.25" fill="#0829b0"/>
<rect x="209.4" y="540.16" width="4.2" height="4.2" fill="#0829b0"/>
<circle cx="198.1" cy="542.14" r="2.25" fill="#0829b0"/>
<rect x="209.4" y="531.08" width="4.2" height="4.2" fill="#0829b0"/>
<circle cx="198.1" cy="551.46" r="2.25" fill="#0829b0"/>
<rect x="209.4" y="542.22" width="4.2" height="4.2" fill="#0829b0"/>
<circle cx="198.1" cy="597.8" r="2.25" fill="#0829b0"/>
<rect x="209.4" y="572.35" width="4.2" height="4.2" fill="#0829b0"/>
<line x1="225.8" y1="528.59" x2="239" y2="527.98" stroke="#cc0418" stroke-width="1.25"/>
<line x1="225.8" y1="531.85" x2="239" y2="528.95" stroke="#cc0418" stroke-width="1.25"/>
<line x1="225.8" y1="536.45" x2="239" y2="537.42" stroke="#cc0418" stroke-width="1.25"/>
<line x1="225.8" y1="541.65" x2="239" y2="538.63" stroke="#cc0418" stroke-width="1.25"/>
<line x1="225.8" y1="545.89" x2="239" y2="550.25" stroke="#cc0418" stroke-width="1.25"/>
<line x1="225.8" y1="536.45" x2="239" y2="553.63" stroke="#cc0418" stroke-width="1.25"/>
<line x1="225.8" y1="575.41" x2="239" y2="574.45" stroke="#cc0418" stroke-width="1.25"/>
<circle cx="225.8" cy="528.59" r="2.25" fill="#cc0418"/>
<rect x="236.9" y="525.88" width="4.2" height="4.2" fill="#cc0418"/>
<circle cx="225.8" cy="531.85" r="2.25" fill="#cc0418"/>
<rect x="236.9" y="526.85" width="4.2" height="4.2" fill="#cc0418"/>
<circle cx="225.8" cy="536.45" r="2.25" fill="#cc0418"/>
<rect x="236.9" y="535.32" width="4.2" height="4.2" fill="#cc0418"/>
<circle cx="225.8" cy="541.65" r="2.25" fill="#cc0418"/>
<rect x="236.9" y="536.53" width="4.2" height="4.2" fill="#cc0418"/>
<circle cx="225.8" cy="545.89" r="2.25" fill="#cc0418"/>
<rect x="236.9" y="548.15" width="4.2" height="4.2" fill="#cc0418"/>
<circle cx="225.8" cy="536.45" r="2.25" fill="#cc0418"/>
<rect x="236.9" y="551.53" width="4.2" height="4.2" fill="#cc0418"/>
<circle cx="225.8" cy="575.41" r="2.25" fill="#cc0418"/>
<rect x="236.9" y="572.35" width="4.2" height="4.2" fill="#cc0418"/>
<line x1="67.4" y1="520.5" x2="83.5" y2="520.5" stroke="#1a1a1a" stroke-width="1.4"/>
<path d="M73.45 515.2L73.95 516.21L75.07 516.37L74.26 517.16L74.45 518.28L73.45 517.75L72.45 518.28L72.64 517.16L71.83 516.37L72.95 516.21Z" fill="#111"/>
<path d="M77.45 515.2L77.95 516.21L79.07 516.37L78.26 517.16L78.45 518.28L77.45 517.75L76.45 518.28L76.64 517.16L75.83 516.37L76.95 516.21Z" fill="#111"/>
<line x1="95" y1="520.5" x2="110.8" y2="520.5" stroke="#1a1a1a" stroke-width="1.4"/>
<text x="102.9" y="518.7" font-size="6.9" text-anchor="middle" fill="#555">ns</text>
<line x1="132.1" y1="520.5" x2="148.3" y2="520.5" stroke="#1a1a1a" stroke-width="1.4"/>
<path d="M140.2 515.2L140.7 516.21L141.82 516.37L141.01 517.16L141.2 518.28L140.2 517.75L139.2 518.28L139.39 517.16L138.58 516.37L139.7 516.21Z" fill="#111"/>
<line x1="159.8" y1="520.5" x2="175.7" y2="520.5" stroke="#1a1a1a" stroke-width="1.4"/>
<path d="M167.75 515.2L168.25 516.21L169.37 516.37L168.56 517.16L168.75 518.28L167.75 517.75L166.75 518.28L166.94 517.16L166.13 516.37L167.25 516.21Z" fill="#111"/>
<line x1="197.3" y1="520.5" x2="213.4" y2="520.5" stroke="#1a1a1a" stroke-width="1.4"/>
<text x="205.35" y="518.7" font-size="6.9" text-anchor="middle" fill="#555">ns</text>
<line x1="224.2" y1="520.5" x2="240.4" y2="520.5" stroke="#1a1a1a" stroke-width="1.4"/>
<text x="232.3" y="518.7" font-size="6.9" text-anchor="middle" fill="#555">ns</text>
<line x1="53.5" y1="665.5" x2="64.3" y2="665.5" stroke="#0829b0" stroke-width="1.1"/>
<circle cx="58.9" cy="665.5" r="2.2" fill="#0829b0"/>
<text x="66.9" y="668.2" font-size="8" textLength="26.9" lengthAdjust="spacingAndGlyphs" fill="#1a1a1a" stroke="#1a1a1a" stroke-width="0.12">Pre-NoR</text>
<line x1="101.5" y1="665.5" x2="112.3" y2="665.5" stroke="#0829b0" stroke-width="1.1"/>
<rect x="104.8" y="663.4" width="4.2" height="4.2" fill="#0829b0"/>
<text x="115.5" y="668.2" font-size="8" textLength="33.5" lengthAdjust="spacingAndGlyphs" fill="#1a1a1a" stroke="#1a1a1a" stroke-width="0.12">d+14 NoR</text>
<line x1="155.7" y1="665.5" x2="166.5" y2="665.5" stroke="#cc0418" stroke-width="1.1"/>
<circle cx="161.1" cy="665.5" r="2.2" fill="#cc0418"/>
<text x="169.5" y="668.2" font-size="8" textLength="17.8" lengthAdjust="spacingAndGlyphs" fill="#1a1a1a" stroke="#1a1a1a" stroke-width="0.12">Pre-R</text>
<line x1="195.8" y1="665.5" x2="206.6" y2="665.5" stroke="#cc0418" stroke-width="1.1"/>
<rect x="199.1" y="663.4" width="4.2" height="4.2" fill="#cc0418"/>
<text x="209.7" y="668.2" font-size="8" textLength="24.9" lengthAdjust="spacingAndGlyphs" fill="#1a1a1a" stroke="#1a1a1a" stroke-width="0.12">d+14 R</text>
<text x="278.9" y="520.9" font-size="10.6" font-weight="bold" fill="#000" stroke="#000" stroke-width="0.4">H</text>
<line x1="322.3" y1="522.3" x2="322.3" y2="643.4" stroke="#1a1a1a" stroke-width="1.65"/>
<line x1="319.5" y1="522.4" x2="322.3" y2="522.4" stroke="#1a1a1a" stroke-width="1.65"/>
<text x="317" y="525.3" font-size="8.7" text-anchor="end" textLength="8.7" lengthAdjust="spacingAndGlyphs" fill="#1a1a1a" stroke="#1a1a1a" stroke-width="0.12">30</text>
<line x1="319.5" y1="546.6" x2="322.3" y2="546.6" stroke="#1a1a1a" stroke-width="1.65"/>
<text x="317" y="549.5" font-size="8.7" text-anchor="end" textLength="8.7" lengthAdjust="spacingAndGlyphs" fill="#1a1a1a" stroke="#1a1a1a" stroke-width="0.12">20</text>
<line x1="319.5" y1="570.8" x2="322.3" y2="570.8" stroke="#1a1a1a" stroke-width="1.65"/>
<text x="317" y="573.7" font-size="8.7" text-anchor="end" textLength="8.7" lengthAdjust="spacingAndGlyphs" fill="#1a1a1a" stroke="#1a1a1a" stroke-width="0.12">10</text>
<line x1="319.5" y1="595" x2="322.3" y2="595" stroke="#1a1a1a" stroke-width="1.65"/>
<text x="317" y="597.9" font-size="8.7" text-anchor="end" textLength="4.35" lengthAdjust="spacingAndGlyphs" fill="#1a1a1a" stroke="#1a1a1a" stroke-width="0.12">0</text>
<line x1="319.5" y1="619.2" x2="322.3" y2="619.2" stroke="#1a1a1a" stroke-width="1.65"/>
<text x="317" y="622.1" font-size="8.7" text-anchor="end" textLength="13.3" lengthAdjust="spacingAndGlyphs" fill="#1a1a1a" stroke="#1a1a1a" stroke-width="0.12">&#8722;10</text>
<line x1="319.5" y1="643.4" x2="322.3" y2="643.4" stroke="#1a1a1a" stroke-width="1.65"/>
<text x="317" y="646.3" font-size="8.7" text-anchor="end" textLength="13.3" lengthAdjust="spacingAndGlyphs" fill="#1a1a1a" stroke="#1a1a1a" stroke-width="0.12">&#8722;20</text>
<line x1="322.3" y1="643.4" x2="512.8" y2="643.4" stroke="#1a1a1a" stroke-width="1.65"/>
<line x1="348.8" y1="643.4" x2="348.8" y2="646.2" stroke="#1a1a1a" stroke-width="1.65"/>
<line x1="416.7" y1="643.4" x2="416.7" y2="646.2" stroke="#1a1a1a" stroke-width="1.65"/>
<line x1="484.8" y1="643.4" x2="484.8" y2="646.2" stroke="#1a1a1a" stroke-width="1.65"/>
<line x1="323" y1="595.15" x2="514" y2="595.15" stroke="#3a3a3a" stroke-width="1.8" stroke-dasharray="1 1"/>
<text x="349" y="655.3" font-size="8.2" text-anchor="middle" textLength="23.5" lengthAdjust="spacingAndGlyphs" fill="#1a1a1a" stroke="#1a1a1a" stroke-width="0.12">Top 20</text>
<text x="416.4" y="655.3" font-size="8.2" text-anchor="middle" textLength="33.2" lengthAdjust="spacingAndGlyphs" fill="#1a1a1a" stroke="#1a1a1a" stroke-width="0.12">Top 21&#8722;N</text>
<text x="484.8" y="655.3" font-size="8.2" text-anchor="middle" textLength="42" lengthAdjust="spacingAndGlyphs" fill="#1a1a1a" stroke="#1a1a1a" stroke-width="0.12">Total overlap</text>
<text transform="translate(287.8 583.1) rotate(-90)" font-size="9.3" text-anchor="middle" textLength="82.6" lengthAdjust="spacingAndGlyphs" fill="#1a1a1a" stroke="#1a1a1a" stroke-width="0.18">&#916; Overlapping clones of total</text>
<text transform="translate(299.4 582.4) rotate(-90)" font-size="9.3" text-anchor="middle" textLength="59" lengthAdjust="spacingAndGlyphs" fill="#1a1a1a" stroke="#1a1a1a" stroke-width="0.18">CD8<tspan font-size="5.6" dy="-3.2">+</tspan><tspan dy="3.2"> Repertoire (%)</tspan></text>
<line x1="338.5" y1="520" x2="359.7" y2="520" stroke="#1a1a1a" stroke-width="1.4"/>
<text x="349.1" y="518.2" font-size="6.9" text-anchor="middle" fill="#555">ns</text>
<line x1="406" y1="520" x2="427.1" y2="520" stroke="#1a1a1a" stroke-width="1.4"/>
<text x="416.55" y="518.2" font-size="6.9" text-anchor="middle" fill="#555">ns</text>
<line x1="474.4" y1="520" x2="495.5" y2="520" stroke="#1a1a1a" stroke-width="1.4"/>
<text x="484.95" y="518.2" font-size="6.9" text-anchor="middle" fill="#555">ns</text>
<path d="M337.3 541.4L339.8 546L334.8 546Z" fill="#0829b0"/>
<path d="M337.3 552.29L339.8 556.89L334.8 556.89Z" fill="#0829b0"/>
<path d="M332.7 566.81L335.2 571.41L330.2 571.41Z" fill="#0829b0"/>
<path d="M342.6 565.11L345.1 569.71L340.1 569.71Z" fill="#0829b0"/>
<path d="M338.5 569.71L341 574.31L336 574.31Z" fill="#0829b0"/>
<path d="M332.7 582.29L335.2 586.89L330.2 586.89Z" fill="#0829b0"/>
<path d="M342.6 584.71L345.1 589.31L340.1 589.31Z" fill="#0829b0"/>
<path d="M337.3 587.62L339.8 592.22L334.8 592.22Z" fill="#0829b0"/>
<path d="M405.5 578.91L408 583.51L403 583.51Z" fill="#0829b0"/>
<path d="M401.2 600.69L403.7 605.29L398.7 605.29Z" fill="#0829b0"/>
<path d="M410.4 597.78L412.9 602.38L407.9 602.38Z" fill="#0829b0"/>
<path d="M406.9 603.59L409.4 608.19L404.4 608.19Z" fill="#0829b0"/>
<path d="M402.3 607.7L404.8 612.3L399.8 612.3Z" fill="#0829b0"/>
<path d="M405.5 619.08L408 623.68L403 623.68Z" fill="#0829b0"/>
<path d="M402.3 627.79L404.8 632.39L399.8 632.39Z" fill="#0829b0"/>
<path d="M408.1 627.79L410.6 632.39L405.6 632.39Z" fill="#0829b0"/>
<path d="M473.3 546.48L475.8 551.08L470.8 551.08Z" fill="#0829b0"/>
<path d="M468.1 577.7L470.6 582.3L465.6 582.3Z" fill="#0829b0"/>
<path d="M479 576.73L481.5 581.33L476.5 581.33Z" fill="#0829b0"/>
<path d="M473.3 580.6L475.8 585.2L470.8 585.2Z" fill="#0829b0"/>
<path d="M468.1 593.18L470.6 597.78L465.6 597.78Z" fill="#0829b0"/>
<path d="M478.2 592.7L480.7 597.3L475.7 597.3Z" fill="#0829b0"/>
<path d="M473.3 605.77L475.8 610.37L470.8 610.37Z" fill="#0829b0"/>
<path d="M360.4 546.24L362.9 550.84L357.9 550.84Z" fill="#cc0418"/>
<path d="M356.9 576L359.4 580.6L354.4 580.6Z" fill="#cc0418"/>
<path d="M365.7 580.12L368.2 584.72L363.2 584.72Z" fill="#cc0418"/>
<path d="M360.4 583.5L362.9 588.1L357.9 588.1Z" fill="#cc0418"/>
<path d="M356.5 589.31L359 593.91L354 593.91Z" fill="#cc0418"/>
<path d="M363.4 591.01L365.9 595.61L360.9 595.61Z" fill="#cc0418"/>
<path d="M356.9 603.83L359.4 608.43L354.4 608.43Z" fill="#cc0418"/>
<path d="M362.7 601.41L365.2 606.01L360.2 606.01Z" fill="#cc0418"/>
<path d="M432.9 591.25L435.4 595.85L430.4 595.85Z" fill="#cc0418"/>
<path d="M423.4 595.12L425.9 599.72L420.9 599.72Z" fill="#cc0418"/>
<path d="M432 601.41L434.5 606.01L429.5 606.01Z" fill="#cc0418"/>
<path d="M423.4 602.86L425.9 607.46L420.9 607.46Z" fill="#cc0418"/>
<path d="M428.6 602.86L431.1 607.46L426.1 607.46Z" fill="#cc0418"/>
<path d="M431 601.9L433.5 606.5L428.5 606.5Z" fill="#cc0418"/>
<path d="M428.6 621.5L431.1 626.1L426.1 626.1Z" fill="#cc0418"/>
<path d="M428.6 637.23L431.1 641.83L426.1 641.83Z" fill="#cc0418"/>
<path d="M493.4 581.08L495.9 585.68L490.9 585.68Z" fill="#cc0418"/>
<path d="M501.2 583.99L503.7 588.59L498.7 588.59Z" fill="#cc0418"/>
<path d="M490.6 590.52L493.1 595.12L488.1 595.12Z" fill="#cc0418"/>
<path d="M499.2 593.18L501.7 597.78L496.7 597.78Z" fill="#cc0418"/>
<path d="M494.6 594.15L497.1 598.75L492.1 598.75Z" fill="#cc0418"/>
<path d="M496 611.58L498.5 616.18L493.5 616.18Z" fill="#cc0418"/>
<path d="M496 622.22L498.5 626.82L493.5 626.82Z" fill="#cc0418"/>
<line x1="337.3" y1="558.5" x2="337.3" y2="586.2" stroke="#1a1a1a" stroke-width="1.3"/>
<line x1="333.7" y1="558.5" x2="340.9" y2="558.5" stroke="#1a1a1a" stroke-width="1.5"/>
<line x1="333.7" y1="586.2" x2="340.9" y2="586.2" stroke="#1a1a1a" stroke-width="1.5"/>
<line x1="329.7" y1="569.2" x2="344.9" y2="569.2" stroke="#1a1a1a" stroke-width="1.7"/>
<line x1="360.4" y1="580" x2="360.4" y2="599.2" stroke="#1a1a1a" stroke-width="1.3"/>
<line x1="356.8" y1="580" x2="364" y2="580" stroke="#1a1a1a" stroke-width="1.5"/>
<line x1="356.8" y1="599.2" x2="364" y2="599.2" stroke="#1a1a1a" stroke-width="1.5"/>
<line x1="352.3" y1="587.6" x2="368.5" y2="587.6" stroke="#1a1a1a" stroke-width="1.7"/>
<line x1="405.5" y1="601.6" x2="405.5" y2="625.3" stroke="#1a1a1a" stroke-width="1.3"/>
<line x1="401.9" y1="601.6" x2="409.1" y2="601.6" stroke="#1a1a1a" stroke-width="1.5"/>
<line x1="401.9" y1="625.3" x2="409.1" y2="625.3" stroke="#1a1a1a" stroke-width="1.5"/>
<line x1="398" y1="605.4" x2="413" y2="605.4" stroke="#1a1a1a" stroke-width="1.7"/>
<line x1="428.6" y1="596.4" x2="428.6" y2="614.6" stroke="#1a1a1a" stroke-width="1.3"/>
<line x1="425" y1="596.4" x2="432.2" y2="596.4" stroke="#1a1a1a" stroke-width="1.5"/>
<line x1="425" y1="614.6" x2="432.2" y2="614.6" stroke="#1a1a1a" stroke-width="1.5"/>
<line x1="421.1" y1="605.1" x2="436.1" y2="605.1" stroke="#1a1a1a" stroke-width="1.7"/>
<line x1="473.3" y1="580" x2="473.3" y2="596.4" stroke="#1a1a1a" stroke-width="1.3"/>
<line x1="469.7" y1="580" x2="476.9" y2="580" stroke="#1a1a1a" stroke-width="1.5"/>
<line x1="469.7" y1="596.4" x2="476.9" y2="596.4" stroke="#1a1a1a" stroke-width="1.5"/>
<line x1="465.7" y1="582" x2="480.9" y2="582" stroke="#1a1a1a" stroke-width="1.7"/>
<line x1="496" y1="586.9" x2="496" y2="610.9" stroke="#1a1a1a" stroke-width="1.3"/>
<line x1="492.4" y1="586.9" x2="499.6" y2="586.9" stroke="#1a1a1a" stroke-width="1.5"/>
<line x1="492.4" y1="610.9" x2="499.6" y2="610.9" stroke="#1a1a1a" stroke-width="1.5"/>
<line x1="488.4" y1="595" x2="503.6" y2="595" stroke="#1a1a1a" stroke-width="1.7"/>
<path d="M325.5 666.5L327.9 670.9L323.1 670.9Z" fill="#0829b0"/>
<text x="330.2" y="671.6" font-size="8.5" textLength="14" lengthAdjust="spacingAndGlyphs" fill="#1a1a1a" stroke="#1a1a1a" stroke-width="0.12">NoR</text>
<path d="M354.1 666.5L356.5 670.9L351.7 670.9Z" fill="#cc0418"/>
<text x="359.8" y="671.6" font-size="8.5" textLength="5" lengthAdjust="spacingAndGlyphs" fill="#1a1a1a" stroke="#1a1a1a" stroke-width="0.12">R</text>
<rect x="0" y="0" width="520" height="1.5" fill="#000"/>
<rect x="0" y="0" width="1.25" height="678" fill="#000"/>
<rect x="518.6" y="0" width="1.4" height="678" fill="#000"/>
<rect x="0" y="676.6" width="520" height="1.4" fill="#000"/>
</svg>
</body></html>
